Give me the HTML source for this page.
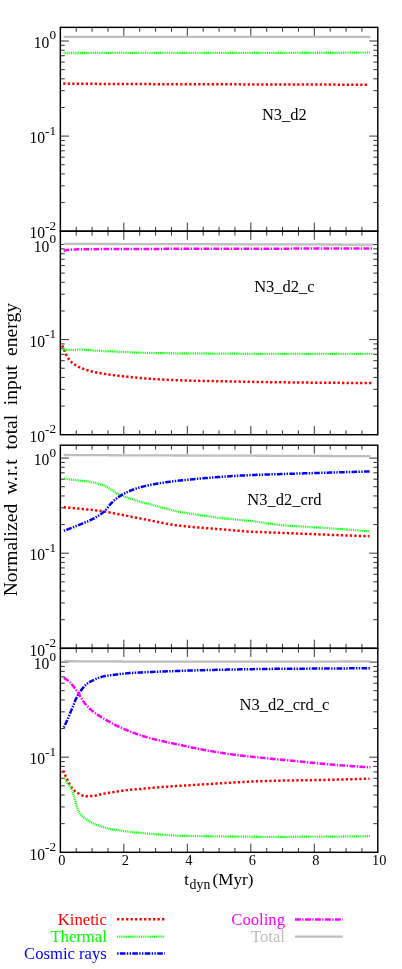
<!DOCTYPE html>
<html><head><meta charset="utf-8"><title>chart</title>
<style>html,body{margin:0;padding:0;background:#fff}body{width:402px;height:969px;overflow:hidden}svg{display:block;will-change:transform}text{font-family:"Liberation Serif",serif;fill:#000}</style></head><body>
<svg width="402" height="969" viewBox="0 0 402 969">
<rect width="402" height="969" fill="#fff"/>
<rect x="60.35" y="27.35" width="317.45" height="203.85" fill="none" stroke="#000" stroke-width="1.45"/>
<rect x="60.35" y="231.2" width="317.45" height="203.5" fill="none" stroke="#000" stroke-width="1.45"/>
<rect x="60.35" y="445.2" width="317.45" height="203.09999999999997" fill="none" stroke="#000" stroke-width="1.45"/>
<rect x="60.35" y="648.3" width="317.45" height="204.0" fill="none" stroke="#000" stroke-width="1.45"/>
<path d="M76.22,27.35L76.22,31.75M76.22,231.20L76.22,226.80M92.09,27.35L92.09,31.75M92.09,231.20L92.09,226.80M107.97,27.35L107.97,31.75M107.97,231.20L107.97,226.80M123.84,27.35L123.84,35.95M123.84,231.20L123.84,222.60M139.71,27.35L139.71,31.75M139.71,231.20L139.71,226.80M155.58,27.35L155.58,31.75M155.58,231.20L155.58,226.80M171.46,27.35L171.46,31.75M171.46,231.20L171.46,226.80M187.33,27.35L187.33,35.95M187.33,231.20L187.33,222.60M203.20,27.35L203.20,31.75M203.20,231.20L203.20,226.80M219.07,27.35L219.07,31.75M219.07,231.20L219.07,226.80M234.95,27.35L234.95,31.75M234.95,231.20L234.95,226.80M250.82,27.35L250.82,35.95M250.82,231.20L250.82,222.60M266.69,27.35L266.69,31.75M266.69,231.20L266.69,226.80M282.56,27.35L282.56,31.75M282.56,231.20L282.56,226.80M298.44,27.35L298.44,31.75M298.44,231.20L298.44,226.80M314.31,27.35L314.31,35.95M314.31,231.20L314.31,222.60M330.18,27.35L330.18,31.75M330.18,231.20L330.18,226.80M346.06,27.35L346.06,31.75M346.06,231.20L346.06,226.80M361.93,27.35L361.93,31.75M361.93,231.20L361.93,226.80M60.35,202.57L64.75,202.57M377.80,202.57L373.40,202.57M60.35,185.83L64.75,185.83M377.80,185.83L373.40,185.83M60.35,173.94L64.75,173.94M377.80,173.94L373.40,173.94M60.35,164.73L64.75,164.73M377.80,164.73L373.40,164.73M60.35,157.20L64.75,157.20M377.80,157.20L373.40,157.20M60.35,150.83L64.75,150.83M377.80,150.83L373.40,150.83M60.35,145.32L64.75,145.32M377.80,145.32L373.40,145.32M60.35,140.45L64.75,140.45M377.80,140.45L373.40,140.45M60.35,136.10L68.95,136.10M377.80,136.10L369.20,136.10M60.35,107.47L64.75,107.47M377.80,107.47L373.40,107.47M60.35,90.73L64.75,90.73M377.80,90.73L373.40,90.73M60.35,78.84L64.75,78.84M377.80,78.84L373.40,78.84M60.35,69.63L64.75,69.63M377.80,69.63L373.40,69.63M60.35,62.10L64.75,62.10M377.80,62.10L373.40,62.10M60.35,55.73L64.75,55.73M377.80,55.73L373.40,55.73M60.35,50.22L64.75,50.22M377.80,50.22L373.40,50.22M60.35,45.35L64.75,45.35M377.80,45.35L373.40,45.35M60.35,41.00L68.95,41.00M377.80,41.00L369.20,41.00M76.22,231.20L76.22,235.60M76.22,434.70L76.22,430.30M92.09,231.20L92.09,235.60M92.09,434.70L92.09,430.30M107.97,231.20L107.97,235.60M107.97,434.70L107.97,430.30M123.84,231.20L123.84,239.80M123.84,434.70L123.84,426.10M139.71,231.20L139.71,235.60M139.71,434.70L139.71,430.30M155.58,231.20L155.58,235.60M155.58,434.70L155.58,430.30M171.46,231.20L171.46,235.60M171.46,434.70L171.46,430.30M187.33,231.20L187.33,239.80M187.33,434.70L187.33,426.10M203.20,231.20L203.20,235.60M203.20,434.70L203.20,430.30M219.07,231.20L219.07,235.60M219.07,434.70L219.07,430.30M234.95,231.20L234.95,235.60M234.95,434.70L234.95,430.30M250.82,231.20L250.82,239.80M250.82,434.70L250.82,426.10M266.69,231.20L266.69,235.60M266.69,434.70L266.69,430.30M282.56,231.20L282.56,235.60M282.56,434.70L282.56,430.30M298.44,231.20L298.44,235.60M298.44,434.70L298.44,430.30M314.31,231.20L314.31,239.80M314.31,434.70L314.31,426.10M330.18,231.20L330.18,235.60M330.18,434.70L330.18,430.30M346.06,231.20L346.06,235.60M346.06,434.70L346.06,430.30M361.93,231.20L361.93,235.60M361.93,434.70L361.93,430.30M60.35,406.07L64.75,406.07M377.80,406.07L373.40,406.07M60.35,389.33L64.75,389.33M377.80,389.33L373.40,389.33M60.35,377.44L64.75,377.44M377.80,377.44L373.40,377.44M60.35,368.23L64.75,368.23M377.80,368.23L373.40,368.23M60.35,360.70L64.75,360.70M377.80,360.70L373.40,360.70M60.35,354.33L64.75,354.33M377.80,354.33L373.40,354.33M60.35,348.82L64.75,348.82M377.80,348.82L373.40,348.82M60.35,343.95L64.75,343.95M377.80,343.95L373.40,343.95M60.35,339.60L68.95,339.60M377.80,339.60L369.20,339.60M60.35,310.97L64.75,310.97M377.80,310.97L373.40,310.97M60.35,294.23L64.75,294.23M377.80,294.23L373.40,294.23M60.35,282.34L64.75,282.34M377.80,282.34L373.40,282.34M60.35,273.13L64.75,273.13M377.80,273.13L373.40,273.13M60.35,265.60L64.75,265.60M377.80,265.60L373.40,265.60M60.35,259.23L64.75,259.23M377.80,259.23L373.40,259.23M60.35,253.72L64.75,253.72M377.80,253.72L373.40,253.72M60.35,248.85L64.75,248.85M377.80,248.85L373.40,248.85M60.35,244.50L68.95,244.50M377.80,244.50L369.20,244.50M76.22,445.20L76.22,449.60M76.22,648.30L76.22,643.90M92.09,445.20L92.09,449.60M92.09,648.30L92.09,643.90M107.97,445.20L107.97,449.60M107.97,648.30L107.97,643.90M123.84,445.20L123.84,453.80M123.84,648.30L123.84,639.70M139.71,445.20L139.71,449.60M139.71,648.30L139.71,643.90M155.58,445.20L155.58,449.60M155.58,648.30L155.58,643.90M171.46,445.20L171.46,449.60M171.46,648.30L171.46,643.90M187.33,445.20L187.33,453.80M187.33,648.30L187.33,639.70M203.20,445.20L203.20,449.60M203.20,648.30L203.20,643.90M219.07,445.20L219.07,449.60M219.07,648.30L219.07,643.90M234.95,445.20L234.95,449.60M234.95,648.30L234.95,643.90M250.82,445.20L250.82,453.80M250.82,648.30L250.82,639.70M266.69,445.20L266.69,449.60M266.69,648.30L266.69,643.90M282.56,445.20L282.56,449.60M282.56,648.30L282.56,643.90M298.44,445.20L298.44,449.60M298.44,648.30L298.44,643.90M314.31,445.20L314.31,453.80M314.31,648.30L314.31,639.70M330.18,445.20L330.18,449.60M330.18,648.30L330.18,643.90M346.06,445.20L346.06,449.60M346.06,648.30L346.06,643.90M361.93,445.20L361.93,449.60M361.93,648.30L361.93,643.90M60.35,619.67L64.75,619.67M377.80,619.67L373.40,619.67M60.35,602.93L64.75,602.93M377.80,602.93L373.40,602.93M60.35,591.04L64.75,591.04M377.80,591.04L373.40,591.04M60.35,581.83L64.75,581.83M377.80,581.83L373.40,581.83M60.35,574.30L64.75,574.30M377.80,574.30L373.40,574.30M60.35,567.93L64.75,567.93M377.80,567.93L373.40,567.93M60.35,562.42L64.75,562.42M377.80,562.42L373.40,562.42M60.35,557.55L64.75,557.55M377.80,557.55L373.40,557.55M60.35,553.20L68.95,553.20M377.80,553.20L369.20,553.20M60.35,524.57L64.75,524.57M377.80,524.57L373.40,524.57M60.35,507.83L64.75,507.83M377.80,507.83L373.40,507.83M60.35,495.94L64.75,495.94M377.80,495.94L373.40,495.94M60.35,486.73L64.75,486.73M377.80,486.73L373.40,486.73M60.35,479.20L64.75,479.20M377.80,479.20L373.40,479.20M60.35,472.83L64.75,472.83M377.80,472.83L373.40,472.83M60.35,467.32L64.75,467.32M377.80,467.32L373.40,467.32M60.35,462.45L64.75,462.45M377.80,462.45L373.40,462.45M60.35,458.10L68.95,458.10M377.80,458.10L369.20,458.10M76.22,648.30L76.22,652.70M76.22,852.30L76.22,847.90M92.09,648.30L92.09,652.70M92.09,852.30L92.09,847.90M107.97,648.30L107.97,652.70M107.97,852.30L107.97,847.90M123.84,648.30L123.84,656.90M123.84,852.30L123.84,843.70M139.71,648.30L139.71,652.70M139.71,852.30L139.71,847.90M155.58,648.30L155.58,652.70M155.58,852.30L155.58,847.90M171.46,648.30L171.46,652.70M171.46,852.30L171.46,847.90M187.33,648.30L187.33,656.90M187.33,852.30L187.33,843.70M203.20,648.30L203.20,652.70M203.20,852.30L203.20,847.90M219.07,648.30L219.07,652.70M219.07,852.30L219.07,847.90M234.95,648.30L234.95,652.70M234.95,852.30L234.95,847.90M250.82,648.30L250.82,656.90M250.82,852.30L250.82,843.70M266.69,648.30L266.69,652.70M266.69,852.30L266.69,847.90M282.56,648.30L282.56,652.70M282.56,852.30L282.56,847.90M298.44,648.30L298.44,652.70M298.44,852.30L298.44,847.90M314.31,648.30L314.31,656.90M314.31,852.30L314.31,843.70M330.18,648.30L330.18,652.70M330.18,852.30L330.18,847.90M346.06,648.30L346.06,652.70M346.06,852.30L346.06,847.90M361.93,648.30L361.93,652.70M361.93,852.30L361.93,847.90M60.35,823.67L64.75,823.67M377.80,823.67L373.40,823.67M60.35,806.93L64.75,806.93M377.80,806.93L373.40,806.93M60.35,795.04L64.75,795.04M377.80,795.04L373.40,795.04M60.35,785.83L64.75,785.83M377.80,785.83L373.40,785.83M60.35,778.30L64.75,778.30M377.80,778.30L373.40,778.30M60.35,771.93L64.75,771.93M377.80,771.93L373.40,771.93M60.35,766.42L64.75,766.42M377.80,766.42L373.40,766.42M60.35,761.55L64.75,761.55M377.80,761.55L373.40,761.55M60.35,757.20L68.95,757.20M377.80,757.20L369.20,757.20M60.35,728.57L64.75,728.57M377.80,728.57L373.40,728.57M60.35,711.83L64.75,711.83M377.80,711.83L373.40,711.83M60.35,699.94L64.75,699.94M377.80,699.94L373.40,699.94M60.35,690.73L64.75,690.73M377.80,690.73L373.40,690.73M60.35,683.20L64.75,683.20M377.80,683.20L373.40,683.20M60.35,676.83L64.75,676.83M377.80,676.83L373.40,676.83M60.35,671.32L64.75,671.32M377.80,671.32L373.40,671.32M60.35,666.45L64.75,666.45M377.80,666.45L373.40,666.45M60.35,662.10L68.95,662.10M377.80,662.10L369.20,662.10" stroke="#000" stroke-width="0.8" fill="none"/>
<path d="M63.60,36.90 L64.63,36.90 L65.65,36.90 L66.68,36.90 L67.70,36.90 L68.73,36.90 L69.76,36.90 L70.78,36.90 L71.81,36.90 L72.83,36.90 L73.86,36.90 L74.89,36.90 L75.91,36.90 L76.94,36.90 L77.97,36.90 L78.99,36.89 L80.02,36.89 L81.04,36.89 L82.07,36.89 L83.10,36.89 L84.12,36.89 L85.15,36.89 L86.17,36.89 L87.20,36.89 L88.23,36.89 L89.25,36.89 L90.28,36.89 L91.30,36.89 L92.33,36.89 L93.36,36.89 L94.38,36.89 L95.41,36.89 L96.43,36.89 L97.46,36.89 L98.49,36.89 L99.51,36.89 L100.54,36.89 L101.57,36.89 L102.59,36.89 L103.62,36.89 L104.64,36.89 L105.67,36.89 L106.70,36.89 L107.72,36.89 L108.75,36.89 L109.77,36.88 L110.80,36.88 L111.83,36.88 L112.85,36.88 L113.88,36.88 L114.90,36.88 L115.93,36.88 L116.96,36.88 L117.98,36.88 L119.01,36.88 L120.03,36.88 L121.06,36.88 L122.09,36.88 L123.11,36.88 L124.14,36.88 L125.17,36.88 L126.19,36.88 L127.22,36.88 L128.24,36.88 L129.27,36.88 L130.30,36.88 L131.32,36.88 L132.35,36.88 L133.37,36.88 L134.40,36.88 L135.43,36.88 L136.45,36.88 L137.48,36.88 L138.50,36.88 L139.53,36.88 L140.56,36.87 L141.58,36.87 L142.61,36.87 L143.63,36.87 L144.66,36.87 L145.69,36.87 L146.71,36.87 L147.74,36.87 L148.77,36.87 L149.79,36.87 L150.82,36.87 L151.84,36.87 L152.87,36.87 L153.90,36.87 L154.92,36.87 L155.95,36.87 L156.97,36.87 L158.00,36.87 L159.03,36.87 L160.05,36.87 L161.08,36.87 L162.10,36.87 L163.13,36.87 L164.16,36.87 L165.18,36.87 L166.21,36.87 L167.23,36.87 L168.26,36.87 L169.29,36.87 L170.31,36.87 L171.34,36.86 L172.37,36.86 L173.39,36.86 L174.42,36.86 L175.44,36.86 L176.47,36.86 L177.50,36.86 L178.52,36.86 L179.55,36.86 L180.57,36.86 L181.60,36.86 L182.63,36.86 L183.65,36.86 L184.68,36.86 L185.70,36.86 L186.73,36.86 L187.76,36.86 L188.78,36.86 L189.81,36.86 L190.83,36.86 L191.86,36.86 L192.89,36.86 L193.91,36.86 L194.94,36.86 L195.97,36.86 L196.99,36.86 L198.02,36.86 L199.04,36.86 L200.07,36.86 L201.10,36.86 L202.12,36.85 L203.15,36.85 L204.17,36.85 L205.20,36.85 L206.23,36.85 L207.25,36.85 L208.28,36.85 L209.30,36.85 L210.33,36.85 L211.36,36.85 L212.38,36.85 L213.41,36.85 L214.43,36.85 L215.46,36.85 L216.49,36.85 L217.51,36.85 L218.54,36.85 L219.57,36.85 L220.59,36.85 L221.62,36.85 L222.64,36.85 L223.67,36.85 L224.70,36.85 L225.72,36.85 L226.75,36.85 L227.77,36.85 L228.80,36.85 L229.83,36.85 L230.85,36.85 L231.88,36.85 L232.90,36.84 L233.93,36.84 L234.96,36.84 L235.98,36.84 L237.01,36.84 L238.03,36.84 L239.06,36.84 L240.09,36.84 L241.11,36.84 L242.14,36.84 L243.17,36.84 L244.19,36.84 L245.22,36.84 L246.24,36.84 L247.27,36.84 L248.30,36.84 L249.32,36.84 L250.35,36.84 L251.37,36.84 L252.40,36.84 L253.43,36.84 L254.45,36.84 L255.48,36.84 L256.50,36.84 L257.53,36.84 L258.56,36.84 L259.58,36.84 L260.61,36.84 L261.63,36.84 L262.66,36.84 L263.69,36.83 L264.71,36.83 L265.74,36.83 L266.77,36.83 L267.79,36.83 L268.82,36.83 L269.84,36.83 L270.87,36.83 L271.90,36.83 L272.92,36.83 L273.95,36.83 L274.97,36.83 L276.00,36.83 L277.03,36.83 L278.05,36.83 L279.08,36.83 L280.10,36.83 L281.13,36.83 L282.16,36.83 L283.18,36.83 L284.21,36.83 L285.23,36.83 L286.26,36.83 L287.29,36.83 L288.31,36.83 L289.34,36.83 L290.37,36.83 L291.39,36.83 L292.42,36.83 L293.44,36.83 L294.47,36.82 L295.50,36.82 L296.52,36.82 L297.55,36.82 L298.57,36.82 L299.60,36.82 L300.63,36.82 L301.65,36.82 L302.68,36.82 L303.70,36.82 L304.73,36.82 L305.76,36.82 L306.78,36.82 L307.81,36.82 L308.83,36.82 L309.86,36.82 L310.89,36.82 L311.91,36.82 L312.94,36.82 L313.97,36.82 L314.99,36.82 L316.02,36.82 L317.04,36.82 L318.07,36.82 L319.10,36.82 L320.12,36.82 L321.15,36.82 L322.17,36.82 L323.20,36.82 L324.23,36.82 L325.25,36.81 L326.28,36.81 L327.30,36.81 L328.33,36.81 L329.36,36.81 L330.38,36.81 L331.41,36.81 L332.43,36.81 L333.46,36.81 L334.49,36.81 L335.51,36.81 L336.54,36.81 L337.57,36.81 L338.59,36.81 L339.62,36.81 L340.64,36.81 L341.67,36.81 L342.70,36.81 L343.72,36.81 L344.75,36.81 L345.77,36.81 L346.80,36.81 L347.83,36.81 L348.85,36.81 L349.88,36.81 L350.90,36.81 L351.93,36.81 L352.96,36.81 L353.98,36.81 L355.01,36.81 L356.03,36.80 L357.06,36.80 L358.09,36.80 L359.11,36.80 L360.14,36.80 L361.17,36.80 L362.19,36.80 L363.22,36.80 L364.24,36.80 L365.27,36.80 L366.30,36.80 L367.32,36.80 L368.35,36.80 L369.37,36.80 L370.40,36.80" fill="none" stroke="#bebebe" stroke-width="2.3"/>
<path d="M63.20,83.60 L64.22,83.61 L65.25,83.62 L66.27,83.63 L67.29,83.63 L68.32,83.64 L69.34,83.65 L70.36,83.66 L71.39,83.67 L72.41,83.68 L73.43,83.68 L74.46,83.69 L75.48,83.70 L76.50,83.71 L77.53,83.72 L78.55,83.73 L79.57,83.73 L80.60,83.74 L81.62,83.75 L82.64,83.76 L83.67,83.77 L84.69,83.77 L85.72,83.78 L86.74,83.79 L87.76,83.80 L88.79,83.81 L89.81,83.81 L90.83,83.82 L91.86,83.83 L92.88,83.84 L93.90,83.84 L94.93,83.85 L95.95,83.86 L96.97,83.87 L98.00,83.87 L99.02,83.88 L100.04,83.89 L101.07,83.89 L102.09,83.90 L103.11,83.91 L104.14,83.91 L105.16,83.92 L106.18,83.93 L107.21,83.93 L108.23,83.94 L109.25,83.94 L110.28,83.95 L111.30,83.96 L112.32,83.96 L113.35,83.97 L114.37,83.97 L115.39,83.98 L116.42,83.98 L117.44,83.99 L118.46,83.99 L119.49,84.00 L120.00,84.00 L120.51,84.00 L121.53,84.01 L122.56,84.01 L123.58,84.02 L124.60,84.02 L125.63,84.02 L126.65,84.03 L127.67,84.03 L128.70,84.04 L129.72,84.04 L130.75,84.05 L131.77,84.05 L132.79,84.05 L133.82,84.06 L134.84,84.06 L135.86,84.07 L136.89,84.07 L137.91,84.07 L138.93,84.08 L139.96,84.08 L140.98,84.09 L142.00,84.09 L143.03,84.09 L144.05,84.10 L145.07,84.10 L146.10,84.11 L147.12,84.11 L148.14,84.11 L149.17,84.12 L150.19,84.12 L151.21,84.12 L152.24,84.13 L153.26,84.13 L154.28,84.13 L155.31,84.14 L156.33,84.14 L157.35,84.14 L158.38,84.15 L159.40,84.15 L160.42,84.15 L161.45,84.16 L162.47,84.16 L163.49,84.16 L164.52,84.17 L165.54,84.17 L166.56,84.17 L167.59,84.18 L168.61,84.18 L169.63,84.18 L170.66,84.19 L171.68,84.19 L172.71,84.19 L173.73,84.20 L174.75,84.20 L175.78,84.20 L176.80,84.21 L177.82,84.21 L178.85,84.21 L179.87,84.21 L180.89,84.22 L181.92,84.22 L182.94,84.22 L183.96,84.23 L184.99,84.23 L186.01,84.23 L187.03,84.23 L188.06,84.24 L189.08,84.24 L190.10,84.24 L191.13,84.25 L192.15,84.25 L193.17,84.25 L194.20,84.25 L195.22,84.26 L196.24,84.26 L197.27,84.26 L198.29,84.26 L199.31,84.27 L200.34,84.27 L201.36,84.27 L202.38,84.28 L203.41,84.28 L204.43,84.28 L205.45,84.28 L206.48,84.29 L207.50,84.29 L208.52,84.29 L209.55,84.29 L210.57,84.30 L211.59,84.30 L212.62,84.30 L213.64,84.30 L214.66,84.31 L215.69,84.31 L216.71,84.31 L217.74,84.32 L218.76,84.32 L219.78,84.32 L220.81,84.32 L221.83,84.33 L222.85,84.33 L223.88,84.33 L224.90,84.33 L225.92,84.34 L226.95,84.34 L227.97,84.34 L228.99,84.34 L230.02,84.35 L231.04,84.35 L232.06,84.35 L233.09,84.35 L234.11,84.36 L235.13,84.36 L236.16,84.36 L237.18,84.37 L238.20,84.37 L239.23,84.37 L240.25,84.37 L241.27,84.38 L242.30,84.38 L243.32,84.38 L244.34,84.38 L245.37,84.39 L246.39,84.39 L247.41,84.39 L248.44,84.40 L249.46,84.40 L250.00,84.40 L250.48,84.40 L251.51,84.40 L252.53,84.41 L253.55,84.41 L254.58,84.41 L255.60,84.42 L256.62,84.42 L257.65,84.42 L258.67,84.42 L259.69,84.43 L260.72,84.43 L261.74,84.43 L262.77,84.43 L263.79,84.44 L264.81,84.44 L265.84,84.44 L266.86,84.45 L267.88,84.45 L268.91,84.45 L269.93,84.45 L270.95,84.46 L271.98,84.46 L273.00,84.46 L274.02,84.47 L275.05,84.47 L276.07,84.47 L277.09,84.47 L278.12,84.48 L279.14,84.48 L280.16,84.48 L281.19,84.48 L282.21,84.49 L283.23,84.49 L284.26,84.49 L285.28,84.50 L286.30,84.50 L287.33,84.50 L288.35,84.50 L289.37,84.51 L290.40,84.51 L291.42,84.51 L292.44,84.51 L293.47,84.52 L294.49,84.52 L295.51,84.52 L296.54,84.52 L297.56,84.53 L298.58,84.53 L299.61,84.53 L300.63,84.53 L301.65,84.54 L302.68,84.54 L303.70,84.54 L304.73,84.55 L305.75,84.55 L306.77,84.55 L307.80,84.55 L308.82,84.56 L309.84,84.56 L310.87,84.56 L311.89,84.56 L312.91,84.57 L313.94,84.57 L314.96,84.57 L315.98,84.57 L317.01,84.58 L318.03,84.58 L319.05,84.58 L320.08,84.58 L321.10,84.59 L322.12,84.59 L323.15,84.59 L324.17,84.59 L325.19,84.60 L326.22,84.60 L327.24,84.60 L328.26,84.60 L329.29,84.61 L330.31,84.61 L331.33,84.61 L332.36,84.61 L333.38,84.62 L334.40,84.62 L335.43,84.62 L336.45,84.62 L337.47,84.63 L338.50,84.63 L339.52,84.63 L340.54,84.63 L341.57,84.64 L342.59,84.64 L343.61,84.64 L344.64,84.64 L345.66,84.65 L346.68,84.65 L347.71,84.65 L348.73,84.65 L349.76,84.66 L350.78,84.66 L351.80,84.66 L352.83,84.66 L353.85,84.66 L354.87,84.67 L355.90,84.67 L356.92,84.67 L357.94,84.67 L358.97,84.68 L359.99,84.68 L361.01,84.68 L362.04,84.68 L363.06,84.69 L364.08,84.69 L365.11,84.69 L366.13,84.69 L367.15,84.70 L368.18,84.70 L369.20,84.70" fill="none" stroke="#ff0000" stroke-width="2.5" stroke-dasharray="2.3 2.2"/>
<path d="M63.60,53.00 L64.63,53.00 L65.65,53.00 L66.68,53.00 L67.70,53.00 L68.73,52.99 L69.76,52.99 L70.78,52.99 L71.81,52.99 L72.83,52.99 L73.86,52.99 L74.89,52.99 L75.91,52.99 L76.94,52.99 L77.97,52.99 L78.99,52.98 L80.02,52.98 L81.04,52.98 L82.07,52.98 L83.10,52.98 L84.12,52.98 L85.15,52.98 L86.17,52.98 L87.20,52.98 L88.23,52.98 L89.25,52.97 L90.28,52.97 L91.30,52.97 L92.33,52.97 L93.36,52.97 L94.38,52.97 L95.41,52.97 L96.43,52.97 L97.46,52.97 L98.49,52.97 L99.51,52.96 L100.54,52.96 L101.57,52.96 L102.59,52.96 L103.62,52.96 L104.64,52.96 L105.67,52.96 L106.70,52.96 L107.72,52.96 L108.75,52.96 L109.77,52.95 L110.80,52.95 L111.83,52.95 L112.85,52.95 L113.88,52.95 L114.90,52.95 L115.93,52.95 L116.96,52.95 L117.98,52.95 L119.01,52.95 L120.03,52.94 L121.06,52.94 L122.09,52.94 L123.11,52.94 L124.14,52.94 L125.17,52.94 L126.19,52.94 L127.22,52.94 L128.24,52.94 L129.27,52.94 L130.30,52.93 L131.32,52.93 L132.35,52.93 L133.37,52.93 L134.40,52.93 L135.43,52.93 L136.45,52.93 L137.48,52.93 L138.50,52.93 L139.53,52.93 L140.56,52.92 L141.58,52.92 L142.61,52.92 L143.63,52.92 L144.66,52.92 L145.69,52.92 L146.71,52.92 L147.74,52.92 L148.77,52.92 L149.79,52.92 L150.82,52.91 L151.84,52.91 L152.87,52.91 L153.90,52.91 L154.92,52.91 L155.95,52.91 L156.97,52.91 L158.00,52.91 L159.03,52.91 L160.05,52.91 L161.08,52.90 L162.10,52.90 L163.13,52.90 L164.16,52.90 L165.18,52.90 L166.21,52.90 L167.23,52.90 L168.26,52.90 L169.29,52.90 L170.31,52.90 L171.34,52.89 L172.37,52.89 L173.39,52.89 L174.42,52.89 L175.44,52.89 L176.47,52.89 L177.50,52.89 L178.52,52.89 L179.55,52.89 L180.57,52.89 L181.60,52.88 L182.63,52.88 L183.65,52.88 L184.68,52.88 L185.70,52.88 L186.73,52.88 L187.76,52.88 L188.78,52.88 L189.81,52.88 L190.83,52.88 L191.86,52.87 L192.89,52.87 L193.91,52.87 L194.94,52.87 L195.97,52.87 L196.99,52.87 L198.02,52.87 L199.04,52.87 L200.07,52.87 L201.10,52.87 L202.12,52.86 L203.15,52.86 L204.17,52.86 L205.20,52.86 L206.23,52.86 L207.25,52.86 L208.28,52.86 L209.30,52.86 L210.33,52.86 L211.36,52.86 L212.38,52.85 L213.41,52.85 L214.43,52.85 L215.46,52.85 L216.49,52.85 L217.51,52.85 L218.54,52.85 L219.57,52.85 L220.59,52.85 L221.62,52.85 L222.64,52.84 L223.67,52.84 L224.70,52.84 L225.72,52.84 L226.75,52.84 L227.77,52.84 L228.80,52.84 L229.83,52.84 L230.85,52.84 L231.88,52.84 L232.90,52.83 L233.93,52.83 L234.96,52.83 L235.98,52.83 L237.01,52.83 L238.03,52.83 L239.06,52.83 L240.09,52.83 L241.11,52.83 L242.14,52.83 L243.17,52.82 L244.19,52.82 L245.22,52.82 L246.24,52.82 L247.27,52.82 L248.30,52.82 L249.32,52.82 L250.35,52.82 L251.37,52.82 L252.40,52.82 L253.43,52.81 L254.45,52.81 L255.48,52.81 L256.50,52.81 L257.53,52.81 L258.56,52.81 L259.58,52.81 L260.61,52.81 L261.63,52.81 L262.66,52.81 L263.69,52.80 L264.71,52.80 L265.74,52.80 L266.77,52.80 L267.79,52.80 L268.82,52.80 L269.84,52.80 L270.87,52.80 L271.90,52.80 L272.92,52.80 L273.95,52.79 L274.97,52.79 L276.00,52.79 L277.03,52.79 L278.05,52.79 L279.08,52.79 L280.10,52.79 L281.13,52.79 L282.16,52.79 L283.18,52.79 L284.21,52.78 L285.23,52.78 L286.26,52.78 L287.29,52.78 L288.31,52.78 L289.34,52.78 L290.37,52.78 L291.39,52.78 L292.42,52.78 L293.44,52.78 L294.47,52.77 L295.50,52.77 L296.52,52.77 L297.55,52.77 L298.57,52.77 L299.60,52.77 L300.63,52.77 L301.65,52.77 L302.68,52.77 L303.70,52.77 L304.73,52.76 L305.76,52.76 L306.78,52.76 L307.81,52.76 L308.83,52.76 L309.86,52.76 L310.89,52.76 L311.91,52.76 L312.94,52.76 L313.97,52.76 L314.99,52.75 L316.02,52.75 L317.04,52.75 L318.07,52.75 L319.10,52.75 L320.12,52.75 L321.15,52.75 L322.17,52.75 L323.20,52.75 L324.23,52.75 L325.25,52.74 L326.28,52.74 L327.30,52.74 L328.33,52.74 L329.36,52.74 L330.38,52.74 L331.41,52.74 L332.43,52.74 L333.46,52.74 L334.49,52.74 L335.51,52.73 L336.54,52.73 L337.57,52.73 L338.59,52.73 L339.62,52.73 L340.64,52.73 L341.67,52.73 L342.70,52.73 L343.72,52.73 L344.75,52.73 L345.77,52.72 L346.80,52.72 L347.83,52.72 L348.85,52.72 L349.88,52.72 L350.90,52.72 L351.93,52.72 L352.96,52.72 L353.98,52.72 L355.01,52.72 L356.03,52.71 L357.06,52.71 L358.09,52.71 L359.11,52.71 L360.14,52.71 L361.17,52.71 L362.19,52.71 L363.22,52.71 L364.24,52.71 L365.27,52.71 L366.30,52.70 L367.32,52.70 L368.35,52.70 L369.37,52.70 L370.40,52.70" fill="none" stroke="#00ff00" stroke-width="2.3" stroke-dasharray="0.95 0.9"/>
<path d="M63.60,243.90 L64.64,243.90 L65.67,243.90 L66.71,243.91 L67.75,243.91 L68.78,243.91 L69.82,243.91 L70.86,243.92 L71.89,243.92 L72.93,243.92 L73.96,243.92 L75.00,243.92 L76.04,243.93 L77.07,243.93 L78.11,243.93 L79.15,243.93 L80.18,243.94 L81.22,243.94 L82.26,243.94 L83.29,243.94 L84.33,243.94 L85.37,243.95 L86.40,243.95 L87.44,243.95 L88.47,243.95 L89.51,243.96 L90.55,243.96 L91.58,243.96 L92.62,243.96 L93.66,243.96 L94.69,243.97 L95.73,243.97 L96.77,243.97 L97.80,243.97 L98.84,243.98 L99.88,243.98 L100.91,243.98 L101.95,243.98 L102.99,243.99 L104.02,243.99 L105.06,243.99 L106.09,243.99 L107.13,243.99 L108.17,244.00 L109.20,244.00 L110.24,244.00 L111.28,244.00 L112.31,244.01 L113.35,244.01 L114.39,244.01 L115.42,244.01 L116.46,244.01 L117.50,244.02 L118.53,244.02 L119.57,244.02 L120.61,244.02 L121.64,244.03 L122.68,244.03 L123.71,244.03 L124.75,244.03 L125.79,244.04 L126.82,244.04 L127.86,244.04 L128.90,244.04 L129.93,244.04 L130.97,244.05 L132.01,244.05 L133.04,244.05 L134.08,244.05 L135.12,244.06 L136.15,244.06 L137.19,244.06 L138.22,244.06 L139.26,244.06 L140.30,244.07 L141.33,244.07 L142.37,244.07 L143.41,244.07 L144.44,244.08 L145.48,244.08 L146.52,244.08 L147.55,244.08 L148.59,244.09 L149.63,244.09 L150.66,244.09 L151.70,244.09 L152.74,244.09 L153.77,244.10 L154.81,244.10 L155.84,244.10 L156.88,244.10 L157.92,244.11 L158.95,244.11 L159.99,244.11 L161.03,244.11 L162.06,244.12 L163.10,244.12 L164.14,244.12 L165.17,244.12 L166.21,244.12 L167.25,244.13 L168.28,244.13 L169.32,244.13 L170.35,244.13 L171.39,244.14 L172.43,244.14 L173.46,244.14 L174.50,244.14 L175.54,244.15 L176.57,244.15 L177.61,244.15 L178.65,244.15 L179.68,244.15 L180.72,244.16 L181.76,244.16 L182.79,244.16 L183.83,244.16 L184.87,244.17 L185.90,244.17 L186.94,244.17 L187.97,244.17 L189.01,244.18 L190.05,244.18 L191.08,244.18 L192.12,244.18 L193.16,244.18 L194.19,244.19 L195.23,244.19 L196.27,244.19 L197.30,244.19 L198.34,244.20 L199.38,244.20 L200.00,244.20 L200.41,244.20 L201.45,244.20 L202.48,244.21 L203.52,244.21 L204.56,244.21 L205.59,244.21 L206.63,244.21 L207.67,244.22 L208.70,244.22 L209.74,244.22 L210.78,244.22 L211.81,244.23 L212.85,244.23 L213.89,244.23 L214.92,244.23 L215.96,244.24 L217.00,244.24 L218.03,244.24 L219.07,244.24 L220.10,244.25 L221.14,244.25 L222.18,244.25 L223.21,244.25 L224.25,244.25 L225.29,244.26 L226.32,244.26 L227.36,244.26 L228.40,244.26 L229.43,244.27 L230.47,244.27 L231.51,244.27 L232.54,244.27 L233.58,244.28 L234.62,244.28 L235.65,244.28 L236.69,244.28 L237.72,244.29 L238.76,244.29 L239.80,244.29 L240.83,244.29 L241.87,244.29 L242.91,244.30 L243.94,244.30 L244.98,244.30 L246.02,244.30 L247.05,244.31 L248.09,244.31 L249.13,244.31 L250.16,244.31 L251.20,244.32 L252.23,244.32 L253.27,244.32 L254.31,244.32 L255.34,244.33 L256.38,244.33 L257.42,244.33 L258.45,244.33 L259.49,244.33 L260.53,244.34 L261.56,244.34 L262.60,244.34 L263.64,244.34 L264.67,244.35 L265.71,244.35 L266.75,244.35 L267.78,244.35 L268.82,244.36 L269.85,244.36 L270.89,244.36 L271.93,244.36 L272.96,244.37 L274.00,244.37 L275.04,244.37 L276.07,244.37 L277.11,244.38 L278.15,244.38 L279.18,244.38 L280.22,244.38 L281.26,244.38 L282.29,244.39 L283.33,244.39 L284.36,244.39 L285.40,244.39 L286.44,244.40 L287.47,244.40 L288.51,244.40 L289.55,244.40 L290.58,244.41 L291.62,244.41 L292.66,244.41 L293.69,244.41 L294.73,244.42 L295.77,244.42 L296.80,244.42 L297.84,244.42 L298.88,244.43 L299.91,244.43 L300.95,244.43 L301.98,244.43 L303.02,244.44 L304.06,244.44 L305.09,244.44 L306.13,244.44 L307.17,244.44 L308.20,244.45 L309.24,244.45 L310.28,244.45 L311.31,244.45 L312.35,244.46 L313.39,244.46 L314.42,244.46 L315.46,244.46 L316.49,244.47 L317.53,244.47 L318.57,244.47 L319.60,244.47 L320.64,244.48 L321.68,244.48 L322.71,244.48 L323.75,244.48 L324.79,244.49 L325.82,244.49 L326.86,244.49 L327.90,244.49 L328.93,244.50 L329.97,244.50 L331.01,244.50 L332.04,244.50 L333.08,244.50 L334.11,244.51 L335.15,244.51 L336.19,244.51 L337.22,244.51 L338.26,244.52 L339.30,244.52 L340.33,244.52 L341.37,244.52 L342.41,244.53 L343.44,244.53 L344.48,244.53 L345.52,244.53 L346.55,244.54 L347.59,244.54 L348.63,244.54 L349.66,244.54 L350.70,244.55 L351.73,244.55 L352.77,244.55 L353.81,244.55 L354.84,244.56 L355.88,244.56 L356.92,244.56 L357.95,244.56 L358.99,244.57 L360.03,244.57 L361.06,244.57 L362.10,244.57 L363.14,244.58 L364.17,244.58 L365.21,244.58 L366.24,244.58 L367.28,244.59 L368.32,244.59 L369.35,244.59 L370.39,244.59 L371.43,244.60 L372.46,244.60 L373.50,244.60" fill="none" stroke="#bebebe" stroke-width="2.3"/>
<path d="M62.20,345.60 L63.24,348.07 L64.28,350.42 L65.00,352.00 L65.31,352.68 L66.35,354.94 L67.39,357.00 L68.00,358.00 L68.43,358.61 L69.47,359.95 L70.51,361.11 L71.54,362.11 L72.00,362.50 L72.58,362.97 L73.62,363.77 L74.66,364.51 L75.70,365.20 L76.73,365.83 L77.77,366.41 L78.81,366.94 L79.85,367.43 L80.00,367.50 L80.89,367.88 L81.92,368.31 L82.96,368.72 L84.00,369.11 L85.04,369.48 L86.08,369.82 L87.12,370.15 L88.15,370.47 L89.19,370.77 L90.23,371.05 L91.27,371.32 L92.00,371.50 L92.31,371.57 L93.34,371.82 L94.38,372.06 L95.42,372.28 L96.46,372.50 L97.50,372.71 L98.53,372.91 L99.57,373.10 L100.61,373.29 L101.65,373.46 L102.69,373.64 L103.73,373.80 L104.76,373.96 L105.00,374.00 L105.80,374.12 L106.84,374.27 L107.88,374.42 L108.92,374.57 L109.95,374.71 L110.99,374.85 L112.03,374.98 L113.07,375.12 L114.11,375.25 L115.14,375.37 L116.18,375.50 L117.22,375.62 L118.26,375.74 L119.30,375.86 L120.34,375.98 L121.37,376.09 L122.41,376.20 L123.45,376.32 L124.49,376.43 L125.53,376.54 L126.56,376.65 L127.60,376.75 L128.64,376.86 L129.68,376.97 L130.00,377.00 L130.72,377.07 L131.75,377.18 L132.79,377.29 L133.83,377.39 L134.87,377.49 L135.91,377.60 L136.95,377.70 L137.98,377.80 L139.02,377.90 L140.06,378.00 L141.10,378.09 L142.14,378.19 L143.17,378.28 L144.21,378.37 L145.25,378.45 L146.29,378.53 L147.33,378.61 L148.36,378.69 L149.40,378.76 L150.00,378.80 L150.44,378.83 L151.48,378.90 L152.52,378.96 L153.56,379.03 L154.59,379.09 L155.63,379.15 L156.67,379.22 L157.71,379.28 L158.75,379.34 L159.78,379.40 L160.82,379.46 L161.86,379.52 L162.90,379.57 L163.94,379.63 L164.97,379.69 L166.01,379.74 L167.05,379.79 L168.09,379.84 L169.13,379.89 L170.17,379.94 L171.20,379.99 L172.24,380.04 L173.28,380.08 L174.32,380.13 L175.36,380.17 L176.39,380.21 L177.43,380.25 L178.47,380.29 L179.51,380.33 L180.55,380.37 L181.58,380.40 L182.62,380.43 L183.66,380.47 L184.70,380.50 L184.80,380.50 L185.74,380.53 L186.78,380.55 L187.81,380.58 L188.85,380.61 L189.89,380.63 L190.93,380.66 L191.97,380.68 L193.00,380.70 L194.04,380.73 L195.08,380.75 L196.12,380.77 L197.16,380.79 L198.19,380.81 L199.23,380.83 L200.27,380.85 L201.31,380.87 L202.35,380.89 L203.39,380.91 L204.42,380.92 L205.46,380.94 L206.50,380.96 L207.54,380.98 L208.58,381.00 L209.61,381.01 L210.65,381.03 L211.69,381.05 L212.73,381.07 L213.77,381.09 L214.80,381.11 L215.84,381.13 L216.88,381.15 L217.92,381.16 L218.96,381.19 L219.70,381.20 L220.00,381.21 L221.03,381.23 L222.07,381.25 L223.11,381.27 L224.15,381.29 L225.19,381.31 L226.22,381.33 L227.26,381.36 L228.30,381.38 L229.34,381.40 L230.38,381.42 L231.41,381.44 L232.45,381.47 L233.49,381.49 L234.53,381.51 L235.57,381.53 L236.61,381.55 L237.64,381.58 L238.68,381.60 L239.72,381.62 L240.76,381.64 L241.80,381.66 L242.83,381.68 L243.87,381.70 L244.91,381.72 L245.95,381.75 L246.99,381.77 L248.02,381.78 L249.06,381.80 L250.10,381.82 L251.14,381.84 L252.18,381.86 L253.22,381.88 L254.25,381.90 L254.50,381.90 L255.29,381.91 L256.33,381.93 L257.37,381.95 L258.41,381.96 L259.44,381.98 L260.48,382.00 L261.52,382.01 L262.56,382.03 L263.60,382.04 L264.63,382.06 L265.67,382.08 L266.71,382.09 L267.75,382.11 L268.79,382.12 L269.83,382.14 L270.86,382.15 L271.90,382.17 L272.94,382.18 L273.98,382.20 L275.02,382.21 L276.05,382.22 L277.09,382.24 L278.13,382.25 L279.17,382.27 L280.21,382.28 L281.24,382.29 L282.28,382.31 L283.32,382.32 L284.36,382.33 L285.40,382.34 L286.44,382.36 L287.47,382.37 L288.51,382.38 L289.55,382.39 L290.00,382.40 L290.59,382.41 L291.63,382.42 L292.66,382.43 L293.70,382.44 L294.74,382.46 L295.78,382.47 L296.82,382.48 L297.85,382.49 L298.89,382.50 L299.93,382.52 L300.97,382.53 L302.01,382.54 L303.05,382.55 L304.08,382.56 L305.12,382.57 L306.16,382.59 L307.20,382.60 L308.24,382.61 L309.27,382.62 L310.31,382.63 L311.35,382.64 L312.39,382.65 L313.43,382.66 L314.46,382.67 L315.50,382.68 L316.54,382.69 L317.58,382.70 L318.62,382.71 L319.66,382.72 L320.69,382.73 L321.73,382.74 L322.77,382.75 L323.81,382.76 L324.85,382.76 L325.88,382.77 L326.92,382.78 L327.96,382.79 L329.00,382.79 L330.00,382.80 L330.04,382.80 L331.07,382.81 L332.11,382.81 L333.15,382.82 L334.19,382.83 L335.23,382.83 L336.27,382.84 L337.30,382.85 L338.34,382.85 L339.38,382.86 L340.42,382.86 L341.46,382.87 L342.49,382.88 L343.53,382.88 L344.57,382.89 L345.61,382.89 L346.65,382.90 L347.68,382.91 L348.72,382.91 L349.76,382.92 L350.80,382.92 L351.84,382.93 L352.88,382.93 L353.91,382.94 L354.95,382.94 L355.99,382.95 L357.03,382.95 L358.07,382.95 L359.10,382.96 L360.14,382.96 L361.18,382.97 L362.22,382.97 L363.26,382.97 L364.29,382.98 L365.33,382.98 L366.37,382.98 L367.41,382.99 L368.45,382.99 L369.49,382.99 L370.52,383.00 L371.56,383.00 L372.60,383.00" fill="none" stroke="#ff0000" stroke-width="2.5" stroke-dasharray="2.3 2.2"/>
<path d="M62.60,348.20 L63.64,349.11 L64.68,349.73 L65.00,349.80 L65.72,349.86 L66.76,349.92 L67.80,349.96 L68.84,349.99 L69.88,350.00 L70.00,350.00 L70.92,349.99 L71.96,349.95 L73.00,349.89 L74.04,349.82 L75.08,349.74 L76.12,349.67 L77.16,349.60 L78.20,349.54 L79.24,349.51 L80.00,349.50 L80.28,349.50 L81.32,349.52 L82.36,349.55 L83.40,349.61 L84.44,349.68 L85.48,349.76 L86.52,349.85 L87.56,349.94 L88.59,350.05 L89.63,350.15 L90.67,350.25 L91.71,350.35 L92.75,350.44 L93.79,350.52 L94.83,350.59 L95.00,350.60 L95.87,350.65 L96.91,350.71 L97.95,350.77 L98.99,350.83 L100.03,350.88 L101.07,350.93 L102.11,350.99 L103.15,351.04 L104.19,351.09 L105.23,351.14 L106.27,351.19 L107.31,351.24 L108.35,351.29 L109.39,351.33 L110.43,351.38 L111.47,351.43 L112.51,351.47 L113.55,351.52 L114.59,351.56 L115.63,351.61 L116.67,351.66 L117.71,351.70 L118.75,351.75 L119.79,351.79 L120.00,351.80 L120.83,351.84 L121.87,351.88 L122.91,351.93 L123.95,351.98 L124.99,352.03 L126.03,352.08 L127.07,352.13 L128.11,352.18 L129.15,352.23 L130.19,352.28 L131.23,352.33 L132.27,352.38 L133.31,352.43 L134.35,352.48 L135.39,352.52 L136.43,352.57 L137.47,352.61 L138.51,352.66 L139.55,352.70 L140.58,352.74 L141.62,352.78 L142.66,352.81 L143.70,352.85 L144.74,352.88 L145.78,352.91 L146.82,352.94 L147.86,352.96 L148.90,352.98 L149.94,353.00 L150.00,353.00 L150.98,353.02 L152.02,353.03 L153.06,353.05 L154.10,353.06 L155.14,353.08 L156.18,353.09 L157.22,353.10 L158.26,353.12 L159.30,353.13 L160.34,353.14 L161.38,353.16 L162.42,353.17 L163.46,353.18 L164.50,353.19 L165.54,353.21 L166.58,353.22 L167.62,353.23 L168.66,353.24 L169.70,353.25 L170.74,353.26 L171.78,353.27 L172.82,353.28 L173.86,353.29 L174.90,353.30 L175.94,353.31 L176.98,353.32 L178.02,353.33 L179.06,353.34 L180.10,353.35 L181.14,353.35 L182.18,353.36 L183.22,353.37 L184.26,353.38 L185.30,353.39 L186.34,353.40 L187.38,353.40 L188.42,353.41 L189.46,353.42 L190.50,353.42 L191.54,353.43 L192.57,353.44 L193.61,353.45 L194.65,353.45 L195.69,353.46 L196.73,353.47 L197.77,353.47 L198.81,353.48 L199.85,353.48 L200.89,353.49 L201.93,353.50 L202.97,353.50 L204.01,353.51 L205.05,353.52 L206.09,353.52 L207.13,353.53 L208.17,353.53 L209.21,353.54 L210.25,353.55 L211.29,353.55 L212.33,353.56 L213.37,353.56 L214.41,353.57 L215.45,353.57 L216.49,353.58 L217.53,353.59 L218.57,353.59 L219.61,353.60 L220.00,353.60 L220.65,353.60 L221.69,353.61 L222.73,353.62 L223.77,353.62 L224.81,353.63 L225.85,353.63 L226.89,353.64 L227.93,353.65 L228.97,353.65 L230.01,353.66 L231.05,353.66 L232.09,353.67 L233.13,353.68 L234.17,353.68 L235.21,353.69 L236.25,353.70 L237.29,353.70 L238.33,353.71 L239.37,353.71 L240.41,353.72 L241.45,353.73 L242.49,353.73 L243.53,353.74 L244.56,353.74 L245.60,353.75 L246.64,353.76 L247.68,353.76 L248.72,353.77 L249.76,353.77 L250.80,353.78 L251.84,353.78 L252.88,353.79 L253.92,353.79 L254.96,353.80 L256.00,353.80 L257.04,353.81 L258.08,353.82 L259.12,353.82 L260.16,353.82 L261.20,353.83 L262.24,353.83 L263.28,353.84 L264.32,353.84 L265.36,353.85 L266.40,353.85 L267.44,353.85 L268.48,353.86 L269.52,353.86 L270.56,353.87 L271.60,353.87 L272.64,353.87 L273.68,353.88 L274.72,353.88 L275.76,353.88 L276.80,353.88 L277.84,353.89 L278.88,353.89 L279.92,353.89 L280.96,353.89 L282.00,353.89 L283.04,353.90 L284.08,353.90 L285.12,353.90 L286.16,353.90 L287.20,353.90 L288.24,353.90 L289.28,353.90 L290.00,353.90 L290.32,353.90 L291.36,353.90 L292.40,353.90 L293.44,353.90 L294.48,353.90 L295.52,353.90 L296.55,353.90 L297.59,353.90 L298.63,353.90 L299.67,353.90 L300.71,353.90 L301.75,353.90 L302.79,353.90 L303.83,353.90 L304.87,353.90 L305.91,353.90 L306.95,353.90 L307.99,353.90 L309.03,353.90 L310.07,353.90 L311.11,353.90 L312.15,353.90 L313.19,353.90 L314.23,353.90 L315.27,353.90 L316.31,353.90 L317.35,353.90 L318.39,353.90 L319.43,353.90 L320.47,353.90 L321.51,353.90 L322.55,353.90 L323.59,353.90 L324.63,353.90 L325.67,353.90 L326.71,353.90 L327.75,353.90 L328.79,353.90 L329.83,353.90 L330.87,353.90 L331.91,353.90 L332.95,353.90 L333.99,353.90 L335.03,353.90 L336.07,353.90 L337.11,353.90 L338.15,353.90 L339.19,353.90 L340.23,353.90 L341.27,353.90 L342.31,353.90 L343.35,353.90 L344.39,353.90 L345.43,353.90 L346.47,353.90 L347.51,353.90 L348.54,353.90 L349.58,353.90 L350.62,353.90 L351.66,353.90 L352.70,353.90 L353.74,353.90 L354.78,353.90 L355.82,353.90 L356.86,353.90 L357.90,353.90 L358.94,353.90 L359.98,353.90 L361.02,353.90 L362.06,353.90 L363.10,353.90 L364.14,353.90 L365.18,353.90 L366.22,353.90 L367.26,353.90 L368.30,353.90 L369.34,353.90 L370.38,353.90 L371.42,353.90 L372.46,353.90 L373.50,353.90" fill="none" stroke="#00ff00" stroke-width="2.3" stroke-dasharray="0.95 0.9"/>
<path d="M63.60,250.80 L64.64,250.52 L65.67,250.27 L66.00,250.20 L66.71,250.05 L67.75,249.86 L68.78,249.72 L69.00,249.70 L69.82,249.65 L70.86,249.59 L71.89,249.53 L72.93,249.48 L73.96,249.44 L75.00,249.41 L76.04,249.38 L77.07,249.35 L78.11,249.33 L79.15,249.31 L80.00,249.30 L80.18,249.30 L81.22,249.28 L82.26,249.27 L83.29,249.26 L84.33,249.25 L85.37,249.24 L86.40,249.22 L87.44,249.21 L88.47,249.20 L89.51,249.19 L90.55,249.18 L91.58,249.18 L92.62,249.17 L93.66,249.16 L94.69,249.15 L95.73,249.14 L96.77,249.13 L97.80,249.13 L98.84,249.12 L99.88,249.11 L100.91,249.11 L101.95,249.10 L102.99,249.09 L104.02,249.09 L105.06,249.08 L106.09,249.08 L107.13,249.07 L108.17,249.07 L109.20,249.06 L110.24,249.06 L111.28,249.05 L112.31,249.05 L113.35,249.05 L114.39,249.04 L115.42,249.04 L116.46,249.03 L117.50,249.03 L118.53,249.02 L119.57,249.02 L120.61,249.02 L121.64,249.01 L122.68,249.01 L123.71,249.00 L124.75,249.00 L125.00,249.00 L125.79,249.00 L126.82,248.99 L127.86,248.99 L128.90,248.99 L129.93,248.98 L130.97,248.98 L132.01,248.97 L133.04,248.97 L134.08,248.97 L135.12,248.96 L136.15,248.96 L137.19,248.96 L138.22,248.95 L139.26,248.95 L140.30,248.95 L141.33,248.94 L142.37,248.94 L143.41,248.94 L144.44,248.93 L145.48,248.93 L146.52,248.93 L147.55,248.92 L148.59,248.92 L149.63,248.92 L150.66,248.91 L151.70,248.91 L152.74,248.91 L153.77,248.90 L154.81,248.90 L155.84,248.90 L156.88,248.90 L157.92,248.89 L158.95,248.89 L159.99,248.89 L161.03,248.88 L162.06,248.88 L163.10,248.88 L164.14,248.88 L165.17,248.87 L166.21,248.87 L167.25,248.87 L168.28,248.87 L169.32,248.86 L170.35,248.86 L171.39,248.86 L172.43,248.86 L173.46,248.85 L174.50,248.85 L175.54,248.85 L176.57,248.85 L177.61,248.84 L178.65,248.84 L179.68,248.84 L180.72,248.84 L181.76,248.83 L182.79,248.83 L183.83,248.83 L184.87,248.83 L185.90,248.82 L186.94,248.82 L187.97,248.82 L189.01,248.82 L190.05,248.82 L191.08,248.81 L192.12,248.81 L193.16,248.81 L194.19,248.81 L195.23,248.80 L196.27,248.80 L197.30,248.80 L198.34,248.80 L199.38,248.80 L200.41,248.79 L201.45,248.79 L202.48,248.79 L203.52,248.79 L204.56,248.79 L205.59,248.78 L206.63,248.78 L207.67,248.78 L208.70,248.78 L209.74,248.78 L210.78,248.77 L211.81,248.77 L212.85,248.77 L213.89,248.77 L214.92,248.77 L215.96,248.76 L217.00,248.76 L218.03,248.76 L219.07,248.76 L220.10,248.76 L221.14,248.75 L222.18,248.75 L223.21,248.75 L224.25,248.75 L225.29,248.75 L226.32,248.74 L227.36,248.74 L228.40,248.74 L229.43,248.74 L230.47,248.74 L231.51,248.73 L232.54,248.73 L233.58,248.73 L234.62,248.73 L235.65,248.73 L236.69,248.73 L237.72,248.72 L238.76,248.72 L239.80,248.72 L240.83,248.72 L241.87,248.72 L242.91,248.71 L243.94,248.71 L244.98,248.71 L246.02,248.71 L247.05,248.71 L248.09,248.70 L249.13,248.70 L250.00,248.70 L250.16,248.70 L251.20,248.70 L252.23,248.70 L253.27,248.69 L254.31,248.69 L255.34,248.69 L256.38,248.69 L257.42,248.69 L258.45,248.68 L259.49,248.68 L260.53,248.68 L261.56,248.68 L262.60,248.68 L263.64,248.67 L264.67,248.67 L265.71,248.67 L266.75,248.67 L267.78,248.67 L268.82,248.66 L269.85,248.66 L270.89,248.66 L271.93,248.66 L272.96,248.66 L274.00,248.65 L275.04,248.65 L276.07,248.65 L277.11,248.65 L278.15,248.65 L279.18,248.65 L280.22,248.64 L281.26,248.64 L282.29,248.64 L283.33,248.64 L284.36,248.64 L285.40,248.63 L286.44,248.63 L287.47,248.63 L288.51,248.63 L289.55,248.63 L290.58,248.63 L291.62,248.62 L292.66,248.62 L293.69,248.62 L294.73,248.62 L295.77,248.62 L296.80,248.61 L297.84,248.61 L298.88,248.61 L299.91,248.61 L300.95,248.61 L301.98,248.61 L303.02,248.60 L304.06,248.60 L305.09,248.60 L306.13,248.60 L307.17,248.60 L308.20,248.60 L309.24,248.59 L310.28,248.59 L311.31,248.59 L312.35,248.59 L313.39,248.59 L314.42,248.58 L315.46,248.58 L316.49,248.58 L317.53,248.58 L318.57,248.58 L319.60,248.58 L320.64,248.57 L321.68,248.57 L322.71,248.57 L323.75,248.57 L324.79,248.57 L325.82,248.57 L326.86,248.57 L327.90,248.56 L328.93,248.56 L329.97,248.56 L331.01,248.56 L332.04,248.56 L333.08,248.56 L334.11,248.55 L335.15,248.55 L336.19,248.55 L337.22,248.55 L338.26,248.55 L339.30,248.55 L340.33,248.54 L341.37,248.54 L342.41,248.54 L343.44,248.54 L344.48,248.54 L345.52,248.54 L346.55,248.54 L347.59,248.53 L348.63,248.53 L349.66,248.53 L350.70,248.53 L351.73,248.53 L352.77,248.53 L353.81,248.53 L354.84,248.52 L355.88,248.52 L356.92,248.52 L357.95,248.52 L358.99,248.52 L360.03,248.52 L361.06,248.52 L362.10,248.51 L363.14,248.51 L364.17,248.51 L365.21,248.51 L366.24,248.51 L367.28,248.51 L368.32,248.51 L369.35,248.51 L370.39,248.50 L371.43,248.50 L372.46,248.50 L373.50,248.50" fill="none" stroke="#ff00ff" stroke-width="2.5" stroke-dasharray="5.8 1.5 1.3 1.4"/>
<path d="M63.60,455.00 L64.63,455.01 L65.65,455.01 L66.68,455.02 L67.70,455.02 L68.73,455.03 L69.76,455.03 L70.78,455.04 L71.81,455.04 L72.83,455.05 L73.86,455.05 L74.89,455.06 L75.91,455.07 L76.94,455.07 L77.97,455.08 L78.99,455.08 L80.02,455.09 L81.04,455.09 L82.07,455.10 L83.10,455.10 L84.12,455.11 L85.15,455.11 L86.17,455.12 L87.20,455.12 L88.23,455.13 L89.25,455.13 L90.28,455.14 L91.30,455.14 L92.33,455.15 L93.36,455.15 L94.38,455.16 L95.41,455.16 L96.43,455.17 L97.46,455.17 L98.49,455.18 L99.51,455.18 L100.54,455.19 L101.57,455.19 L102.59,455.20 L103.62,455.20 L104.64,455.21 L105.67,455.21 L106.70,455.22 L107.72,455.22 L108.75,455.23 L109.77,455.23 L110.80,455.24 L111.83,455.24 L112.85,455.25 L113.88,455.25 L114.90,455.26 L115.93,455.26 L116.96,455.27 L117.98,455.27 L119.01,455.27 L120.03,455.28 L121.06,455.28 L122.09,455.29 L123.11,455.29 L124.14,455.30 L125.17,455.30 L126.19,455.31 L127.22,455.31 L128.24,455.31 L129.27,455.32 L130.30,455.32 L131.32,455.33 L132.35,455.33 L133.37,455.34 L134.40,455.34 L135.43,455.34 L136.45,455.35 L137.48,455.35 L138.50,455.36 L139.53,455.36 L140.56,455.36 L141.58,455.37 L142.61,455.37 L143.63,455.38 L144.66,455.38 L145.69,455.38 L146.71,455.39 L147.74,455.39 L148.77,455.40 L149.79,455.40 L150.00,455.40 L150.82,455.40 L151.84,455.41 L152.87,455.41 L153.90,455.41 L154.92,455.42 L155.95,455.42 L156.97,455.42 L158.00,455.43 L159.03,455.43 L160.05,455.44 L161.08,455.44 L162.10,455.44 L163.13,455.45 L164.16,455.45 L165.18,455.45 L166.21,455.46 L167.23,455.46 L168.26,455.46 L169.29,455.46 L170.31,455.47 L171.34,455.47 L172.37,455.47 L173.39,455.48 L174.42,455.48 L175.44,455.48 L176.47,455.49 L177.50,455.49 L178.52,455.49 L179.55,455.50 L180.57,455.50 L181.60,455.50 L182.63,455.50 L183.65,455.51 L184.68,455.51 L185.70,455.51 L186.73,455.52 L187.76,455.52 L188.78,455.52 L189.81,455.52 L190.83,455.53 L191.86,455.53 L192.89,455.53 L193.91,455.54 L194.94,455.54 L195.97,455.54 L196.99,455.54 L198.02,455.55 L199.04,455.55 L200.07,455.55 L201.10,455.56 L202.12,455.56 L203.15,455.56 L204.17,455.56 L205.20,455.57 L206.23,455.57 L207.25,455.57 L208.28,455.57 L209.30,455.58 L210.33,455.58 L211.36,455.58 L212.38,455.59 L213.41,455.59 L214.43,455.59 L215.46,455.59 L216.49,455.60 L217.51,455.60 L218.54,455.60 L219.57,455.61 L220.59,455.61 L221.62,455.61 L222.64,455.61 L223.67,455.62 L224.70,455.62 L225.72,455.62 L226.75,455.63 L227.77,455.63 L228.80,455.63 L229.83,455.64 L230.85,455.64 L231.88,455.64 L232.90,455.64 L233.93,455.65 L234.96,455.65 L235.98,455.65 L237.01,455.66 L238.03,455.66 L239.06,455.66 L240.09,455.67 L241.11,455.67 L242.14,455.67 L243.17,455.68 L244.19,455.68 L245.22,455.68 L246.24,455.69 L247.27,455.69 L248.30,455.69 L249.32,455.70 L250.00,455.70 L250.35,455.70 L251.37,455.70 L252.40,455.71 L253.43,455.71 L254.45,455.72 L255.48,455.72 L256.50,455.72 L257.53,455.73 L258.56,455.73 L259.58,455.73 L260.61,455.74 L261.63,455.74 L262.66,455.74 L263.69,455.75 L264.71,455.75 L265.74,455.76 L266.77,455.76 L267.79,455.76 L268.82,455.77 L269.84,455.77 L270.87,455.77 L271.90,455.78 L272.92,455.78 L273.95,455.79 L274.97,455.79 L276.00,455.79 L277.03,455.80 L278.05,455.80 L279.08,455.81 L280.10,455.81 L281.13,455.81 L282.16,455.82 L283.18,455.82 L284.21,455.83 L285.23,455.83 L286.26,455.83 L287.29,455.84 L288.31,455.84 L289.34,455.85 L290.37,455.85 L291.39,455.85 L292.42,455.86 L293.44,455.86 L294.47,455.87 L295.50,455.87 L296.52,455.87 L297.55,455.88 L298.57,455.88 L299.60,455.89 L300.63,455.89 L301.65,455.89 L302.68,455.90 L303.70,455.90 L304.73,455.91 L305.76,455.91 L306.78,455.92 L307.81,455.92 L308.83,455.92 L309.86,455.93 L310.89,455.93 L311.91,455.94 L312.94,455.94 L313.97,455.95 L314.99,455.95 L316.02,455.95 L317.04,455.96 L318.07,455.96 L319.10,455.97 L320.12,455.97 L321.15,455.98 L322.17,455.98 L323.20,455.99 L324.23,455.99 L325.25,455.99 L326.28,456.00 L327.30,456.00 L328.33,456.01 L329.36,456.01 L330.38,456.02 L331.41,456.02 L332.43,456.03 L333.46,456.03 L334.49,456.03 L335.51,456.04 L336.54,456.04 L337.57,456.05 L338.59,456.05 L339.62,456.06 L340.64,456.06 L341.67,456.07 L342.70,456.07 L343.72,456.08 L344.75,456.08 L345.77,456.09 L346.80,456.09 L347.83,456.09 L348.85,456.10 L349.88,456.10 L350.90,456.11 L351.93,456.11 L352.96,456.12 L353.98,456.12 L355.01,456.13 L356.03,456.13 L357.06,456.14 L358.09,456.14 L359.11,456.15 L360.14,456.15 L361.17,456.16 L362.19,456.16 L363.22,456.17 L364.24,456.17 L365.27,456.18 L366.30,456.18 L367.32,456.19 L368.35,456.19 L369.37,456.20 L370.40,456.20" fill="none" stroke="#bebebe" stroke-width="2.3"/>
<path d="M63.70,507.20 L64.72,507.29 L65.74,507.38 L66.77,507.47 L67.79,507.57 L68.81,507.66 L69.83,507.75 L70.86,507.85 L71.88,507.94 L72.90,508.04 L73.92,508.13 L74.95,508.23 L75.97,508.32 L76.99,508.42 L78.01,508.52 L79.04,508.62 L79.90,508.70 L80.06,508.72 L81.08,508.81 L82.10,508.91 L83.13,509.00 L84.15,509.10 L85.17,509.20 L86.19,509.29 L87.22,509.39 L88.24,509.49 L89.26,509.59 L90.28,509.69 L91.31,509.80 L92.33,509.91 L93.35,510.03 L94.37,510.15 L94.80,510.20 L95.39,510.27 L96.42,510.41 L97.44,510.55 L98.46,510.70 L99.48,510.85 L100.51,511.01 L101.53,511.17 L102.55,511.34 L103.57,511.50 L104.60,511.67 L104.80,511.70 L105.62,511.83 L106.64,512.00 L107.66,512.18 L108.69,512.35 L109.71,512.53 L110.73,512.71 L111.75,512.89 L112.78,513.08 L113.80,513.27 L114.82,513.45 L115.84,513.64 L116.87,513.84 L117.20,513.90 L117.89,514.03 L118.91,514.23 L119.93,514.43 L120.95,514.63 L121.98,514.84 L123.00,515.05 L124.02,515.26 L125.04,515.47 L126.07,515.68 L127.09,515.89 L128.11,516.10 L129.13,516.31 L129.60,516.40 L130.16,516.51 L131.18,516.72 L132.20,516.92 L133.22,517.13 L134.25,517.34 L135.27,517.54 L136.29,517.75 L137.31,517.95 L138.34,518.16 L139.36,518.36 L140.38,518.56 L141.40,518.76 L142.10,518.90 L142.43,518.96 L143.45,519.16 L144.47,519.36 L145.49,519.56 L146.52,519.76 L147.54,519.95 L148.56,520.15 L149.58,520.34 L150.60,520.54 L151.63,520.73 L152.50,520.90 L152.65,520.93 L153.67,521.13 L154.69,521.33 L155.72,521.53 L156.74,521.74 L157.76,521.95 L158.78,522.16 L159.81,522.37 L160.83,522.58 L161.85,522.79 L162.87,523.00 L163.90,523.20 L164.92,523.41 L165.94,523.61 L166.96,523.80 L167.99,523.99 L169.01,524.18 L170.03,524.36 L171.05,524.53 L172.08,524.69 L173.10,524.85 L174.12,524.99 L174.90,525.10 L175.14,525.13 L176.16,525.26 L177.19,525.39 L178.21,525.51 L179.23,525.63 L180.25,525.75 L181.28,525.86 L182.30,525.97 L183.32,526.08 L184.34,526.19 L185.37,526.29 L186.39,526.39 L187.41,526.49 L188.43,526.58 L189.46,526.68 L190.48,526.77 L191.50,526.86 L192.52,526.96 L193.55,527.05 L194.57,527.14 L195.59,527.23 L196.61,527.32 L197.64,527.41 L198.66,527.50 L199.68,527.59 L199.80,527.60 L200.70,527.68 L201.73,527.77 L202.75,527.86 L203.77,527.95 L204.79,528.03 L205.81,528.12 L206.84,528.20 L207.86,528.28 L208.88,528.37 L209.90,528.45 L210.93,528.53 L211.95,528.61 L212.97,528.69 L213.99,528.77 L215.02,528.85 L216.04,528.93 L217.06,529.01 L218.08,529.09 L219.11,529.17 L220.13,529.25 L221.15,529.33 L222.17,529.41 L223.20,529.49 L224.22,529.57 L224.60,529.60 L225.24,529.65 L226.26,529.73 L227.29,529.82 L228.31,529.91 L229.33,529.99 L230.35,530.08 L231.37,530.17 L232.40,530.26 L233.42,530.35 L234.44,530.44 L235.46,530.53 L236.49,530.61 L237.51,530.70 L238.53,530.79 L239.55,530.87 L240.58,530.95 L241.60,531.04 L242.62,531.11 L243.64,531.19 L244.67,531.26 L245.69,531.34 L246.71,531.40 L247.73,531.47 L248.76,531.53 L249.78,531.59 L250.00,531.60 L250.80,531.64 L251.82,531.69 L252.85,531.75 L253.87,531.79 L254.89,531.84 L255.91,531.89 L256.94,531.93 L257.96,531.98 L258.98,532.02 L260.00,532.06 L261.02,532.10 L262.05,532.14 L263.07,532.18 L264.09,532.22 L265.11,532.25 L266.14,532.29 L267.16,532.33 L268.18,532.37 L269.20,532.40 L270.23,532.44 L271.25,532.47 L272.27,532.51 L273.29,532.55 L274.32,532.58 L275.34,532.62 L276.36,532.66 L277.38,532.70 L278.41,532.74 L279.43,532.78 L280.00,532.80 L280.45,532.82 L281.47,532.86 L282.50,532.90 L283.52,532.94 L284.54,532.98 L285.56,533.02 L286.58,533.06 L287.61,533.11 L288.63,533.15 L289.65,533.19 L290.67,533.23 L291.70,533.27 L292.72,533.31 L293.74,533.35 L294.76,533.40 L295.79,533.44 L296.81,533.48 L297.83,533.52 L298.85,533.56 L299.88,533.60 L300.90,533.64 L301.92,533.69 L302.94,533.73 L303.97,533.77 L304.99,533.81 L306.01,533.85 L307.03,533.89 L308.06,533.93 L309.08,533.98 L310.10,534.02 L311.12,534.06 L312.15,534.10 L313.17,534.14 L314.19,534.18 L315.21,534.22 L316.23,534.26 L317.26,534.30 L318.28,534.35 L319.30,534.39 L320.32,534.43 L321.35,534.47 L322.37,534.51 L323.39,534.55 L324.41,534.59 L325.44,534.63 L326.46,534.67 L327.48,534.71 L328.50,534.75 L329.53,534.79 L329.80,534.80 L330.55,534.83 L331.57,534.87 L332.59,534.91 L333.62,534.95 L334.64,534.99 L335.66,535.03 L336.68,535.07 L337.71,535.11 L338.73,535.15 L339.75,535.18 L340.77,535.22 L341.79,535.26 L342.82,535.30 L343.84,535.34 L344.86,535.38 L345.88,535.42 L346.91,535.46 L347.93,535.50 L348.95,535.54 L349.97,535.57 L351.00,535.61 L352.02,535.65 L353.04,535.69 L354.06,535.73 L355.09,535.77 L356.11,535.81 L357.13,535.84 L358.15,535.88 L359.18,535.92 L360.20,535.96 L361.22,536.00 L362.24,536.03 L363.27,536.07 L364.29,536.11 L365.31,536.15 L366.33,536.19 L367.36,536.22 L368.38,536.26 L369.40,536.30" fill="none" stroke="#ff0000" stroke-width="2.5" stroke-dasharray="2.3 2.2"/>
<path d="M63.70,478.60 L64.72,478.71 L65.75,478.83 L66.77,478.95 L67.79,479.07 L68.82,479.19 L69.84,479.31 L70.87,479.44 L71.89,479.56 L72.91,479.69 L73.94,479.82 L74.96,479.95 L75.98,480.08 L77.01,480.22 L78.03,480.35 L79.06,480.49 L79.90,480.60 L80.08,480.62 L81.10,480.76 L82.13,480.89 L83.15,481.02 L84.17,481.15 L85.20,481.28 L86.22,481.41 L87.25,481.55 L88.27,481.69 L89.29,481.84 L90.32,482.00 L91.34,482.16 L92.36,482.33 L93.39,482.52 L94.41,482.72 L94.80,482.80 L95.44,482.94 L96.46,483.18 L97.48,483.45 L98.51,483.74 L99.53,484.05 L100.55,484.39 L101.58,484.75 L102.60,485.13 L103.63,485.52 L104.65,485.94 L104.80,486.00 L105.67,486.39 L106.70,486.92 L107.72,487.50 L108.74,488.14 L109.77,488.81 L110.79,489.50 L111.82,490.20 L112.84,490.89 L113.86,491.57 L114.89,492.22 L115.91,492.82 L116.93,493.37 L117.20,493.50 L117.96,493.86 L118.98,494.34 L120.01,494.80 L121.03,495.24 L122.05,495.67 L123.08,496.09 L124.10,496.50 L125.12,496.89 L126.15,497.28 L127.17,497.65 L128.20,498.01 L129.22,498.37 L129.60,498.50 L130.24,498.72 L131.27,499.05 L132.29,499.38 L133.31,499.70 L134.34,500.00 L135.36,500.31 L136.39,500.60 L137.41,500.89 L138.43,501.18 L139.46,501.47 L140.48,501.75 L141.50,502.03 L142.10,502.20 L142.53,502.32 L143.55,502.60 L144.58,502.88 L145.60,503.15 L146.62,503.42 L147.65,503.69 L148.67,503.95 L149.69,504.22 L150.72,504.48 L151.74,504.75 L152.77,505.01 L153.79,505.28 L154.81,505.55 L155.00,505.60 L155.84,505.82 L156.86,506.10 L157.88,506.39 L158.91,506.67 L159.93,506.96 L160.96,507.25 L161.98,507.55 L163.00,507.84 L164.03,508.13 L165.05,508.42 L166.07,508.70 L167.10,508.99 L168.12,509.26 L169.15,509.53 L170.17,509.80 L171.19,510.05 L172.22,510.30 L173.24,510.54 L174.26,510.77 L174.90,510.90 L175.29,510.98 L176.31,511.19 L177.34,511.39 L178.36,511.59 L179.38,511.79 L180.41,511.98 L181.43,512.17 L182.45,512.35 L183.48,512.53 L184.50,512.71 L185.53,512.88 L186.55,513.05 L187.57,513.22 L188.60,513.39 L189.62,513.55 L190.64,513.71 L191.67,513.87 L192.69,514.03 L193.72,514.19 L194.74,514.34 L195.76,514.50 L196.79,514.65 L197.81,514.80 L198.83,514.96 L199.80,515.10 L199.86,515.11 L200.88,515.26 L201.91,515.41 L202.93,515.56 L203.95,515.71 L204.98,515.86 L206.00,516.00 L207.02,516.15 L208.05,516.29 L209.07,516.43 L210.10,516.57 L211.12,516.71 L212.14,516.85 L213.17,516.99 L214.19,517.12 L215.21,517.26 L216.24,517.39 L217.26,517.52 L218.29,517.65 L219.31,517.77 L220.33,517.90 L221.36,518.02 L222.38,518.14 L223.40,518.26 L224.43,518.38 L224.60,518.40 L225.45,518.50 L226.48,518.61 L227.50,518.71 L228.52,518.82 L229.55,518.92 L230.57,519.02 L231.59,519.12 L232.62,519.22 L233.64,519.32 L234.67,519.41 L235.69,519.50 L236.71,519.60 L237.74,519.69 L238.76,519.78 L239.78,519.88 L240.81,519.97 L241.83,520.07 L242.86,520.17 L243.88,520.26 L244.90,520.36 L245.93,520.47 L246.95,520.57 L247.97,520.68 L249.00,520.79 L250.00,520.90 L250.02,520.90 L251.05,521.02 L252.07,521.14 L253.09,521.27 L254.12,521.41 L255.14,521.54 L256.16,521.68 L257.19,521.83 L258.21,521.97 L259.24,522.12 L260.26,522.27 L261.28,522.42 L262.31,522.57 L263.33,522.73 L264.35,522.88 L265.38,523.03 L266.40,523.18 L267.43,523.33 L268.45,523.48 L269.47,523.63 L270.50,523.77 L271.52,523.91 L272.54,524.05 L273.57,524.18 L274.59,524.31 L275.62,524.43 L276.64,524.55 L277.66,524.67 L278.69,524.77 L279.71,524.87 L280.00,524.90 L280.73,524.97 L281.76,525.06 L282.78,525.15 L283.81,525.24 L284.83,525.32 L285.85,525.41 L286.88,525.49 L287.90,525.57 L288.92,525.65 L289.95,525.73 L290.97,525.81 L292.00,525.88 L293.02,525.95 L294.04,526.03 L295.07,526.10 L296.09,526.17 L297.11,526.24 L298.14,526.30 L299.16,526.37 L300.19,526.44 L301.21,526.50 L302.23,526.57 L303.26,526.63 L304.28,526.69 L305.30,526.76 L306.33,526.82 L307.35,526.88 L308.38,526.94 L309.40,527.00 L310.42,527.07 L311.45,527.13 L312.47,527.19 L313.49,527.25 L314.52,527.31 L315.54,527.37 L316.57,527.44 L317.59,527.50 L318.61,527.56 L319.64,527.63 L320.66,527.69 L321.68,527.75 L322.71,527.82 L323.73,527.89 L324.76,527.95 L325.78,528.02 L326.80,528.09 L327.83,528.16 L328.85,528.23 L329.80,528.30 L329.87,528.31 L330.90,528.38 L331.92,528.45 L332.95,528.53 L333.97,528.60 L334.99,528.67 L336.02,528.75 L337.04,528.82 L338.06,528.90 L339.09,528.97 L340.11,529.05 L341.14,529.12 L342.16,529.20 L343.18,529.27 L344.21,529.35 L345.23,529.43 L346.25,529.50 L347.28,529.58 L348.30,529.66 L349.33,529.73 L350.35,529.81 L351.37,529.89 L352.40,529.96 L353.42,530.04 L354.44,530.12 L355.47,530.20 L356.49,530.27 L357.52,530.35 L358.54,530.43 L359.56,530.51 L360.59,530.59 L361.61,530.67 L362.63,530.74 L363.66,530.82 L364.68,530.90 L365.71,530.98 L366.73,531.06 L367.75,531.14 L368.78,531.22 L369.80,531.30" fill="none" stroke="#00ff00" stroke-width="2.3" stroke-dasharray="0.95 0.9"/>
<path d="M63.70,530.80 L64.73,530.44 L65.75,530.08 L66.78,529.71 L67.80,529.33 L68.83,528.96 L69.85,528.57 L70.88,528.18 L71.91,527.79 L72.93,527.40 L73.96,527.00 L74.98,526.59 L76.01,526.18 L77.03,525.77 L78.06,525.36 L79.09,524.94 L79.90,524.60 L80.11,524.51 L81.14,524.09 L82.16,523.67 L83.19,523.25 L84.22,522.83 L85.24,522.41 L86.27,521.98 L87.29,521.54 L88.32,521.09 L89.34,520.63 L90.37,520.16 L91.40,519.67 L92.42,519.16 L93.45,518.63 L94.47,518.08 L94.80,517.90 L95.50,517.51 L96.52,516.91 L97.55,516.29 L98.58,515.65 L99.60,514.97 L100.63,514.25 L101.65,513.50 L102.68,512.70 L103.70,511.86 L104.73,510.96 L104.80,510.90 L105.76,509.94 L106.78,508.73 L107.81,507.41 L108.83,506.07 L109.86,504.78 L110.88,503.62 L111.00,503.50 L111.91,502.59 L112.94,501.60 L113.96,500.66 L114.99,499.77 L116.01,498.92 L117.04,498.12 L117.20,498.00 L118.06,497.37 L119.09,496.65 L120.12,495.97 L121.14,495.32 L122.17,494.70 L123.19,494.11 L123.40,494.00 L124.22,493.55 L125.25,493.01 L126.27,492.50 L127.30,492.01 L128.32,491.54 L129.35,491.10 L129.60,491.00 L130.37,490.69 L131.40,490.29 L132.43,489.90 L133.45,489.52 L134.48,489.15 L135.50,488.80 L136.53,488.45 L137.55,488.12 L138.58,487.80 L139.61,487.50 L140.63,487.20 L141.66,486.92 L142.10,486.80 L142.68,486.65 L143.71,486.39 L144.73,486.13 L145.76,485.89 L146.79,485.65 L147.81,485.42 L148.84,485.20 L149.86,484.98 L150.89,484.77 L151.91,484.57 L152.94,484.38 L153.97,484.19 L154.99,484.00 L155.00,484.00 L156.02,483.82 L157.04,483.65 L158.07,483.47 L159.09,483.31 L160.12,483.14 L161.15,482.98 L162.17,482.82 L163.20,482.67 L164.22,482.51 L165.25,482.36 L166.28,482.22 L167.30,482.08 L168.33,481.94 L169.35,481.80 L170.38,481.66 L171.40,481.53 L172.43,481.40 L173.46,481.28 L174.48,481.15 L174.90,481.10 L175.51,481.03 L176.53,480.91 L177.56,480.79 L178.58,480.67 L179.61,480.56 L180.64,480.45 L181.66,480.34 L182.69,480.23 L183.71,480.12 L184.74,480.02 L185.76,479.91 L186.79,479.81 L187.82,479.71 L188.84,479.61 L189.87,479.51 L190.89,479.41 L191.92,479.32 L192.94,479.22 L193.97,479.13 L195.00,479.03 L196.02,478.94 L197.05,478.85 L198.07,478.75 L199.10,478.66 L199.80,478.60 L200.13,478.57 L201.15,478.48 L202.18,478.39 L203.20,478.30 L204.23,478.21 L205.25,478.12 L206.28,478.03 L207.31,477.94 L208.33,477.86 L209.36,477.77 L210.38,477.68 L211.41,477.60 L212.43,477.52 L213.46,477.43 L214.49,477.35 L215.51,477.27 L216.54,477.19 L217.56,477.11 L218.59,477.03 L219.61,476.96 L220.64,476.88 L221.67,476.81 L222.69,476.73 L223.72,476.66 L224.60,476.60 L224.74,476.59 L225.77,476.52 L226.79,476.45 L227.82,476.38 L228.85,476.31 L229.87,476.24 L230.90,476.18 L231.92,476.11 L232.95,476.04 L233.97,475.98 L235.00,475.91 L236.03,475.85 L237.05,475.78 L238.08,475.72 L239.10,475.66 L240.13,475.60 L241.16,475.54 L242.18,475.49 L243.21,475.43 L244.23,475.38 L245.26,475.32 L246.28,475.27 L247.31,475.22 L248.34,475.17 L249.36,475.13 L250.00,475.10 L250.39,475.08 L251.41,475.04 L252.44,475.00 L253.46,474.96 L254.49,474.92 L255.52,474.88 L256.54,474.84 L257.57,474.80 L258.59,474.77 L259.62,474.73 L260.64,474.70 L261.67,474.66 L262.70,474.63 L263.72,474.60 L264.75,474.57 L265.77,474.53 L266.80,474.50 L267.82,474.47 L268.85,474.44 L269.88,474.41 L270.90,474.38 L271.93,474.35 L272.95,474.32 L273.98,474.29 L275.01,474.25 L276.03,474.22 L277.06,474.19 L278.08,474.16 L279.11,474.13 L280.00,474.10 L280.13,474.10 L281.16,474.06 L282.19,474.03 L283.21,474.00 L284.24,473.97 L285.26,473.93 L286.29,473.90 L287.31,473.87 L288.34,473.84 L289.37,473.81 L290.39,473.78 L291.42,473.74 L292.44,473.71 L293.47,473.68 L294.49,473.65 L295.52,473.62 L296.55,473.59 L297.57,473.56 L298.60,473.53 L299.62,473.50 L300.65,473.46 L301.67,473.43 L302.70,473.40 L303.73,473.37 L304.75,473.34 L305.78,473.31 L306.80,473.28 L307.83,473.25 L308.85,473.22 L309.88,473.19 L310.91,473.16 L311.93,473.13 L312.96,473.10 L313.98,473.07 L315.01,473.04 L316.04,473.01 L317.06,472.98 L318.09,472.95 L319.11,472.92 L320.14,472.89 L321.16,472.86 L322.19,472.83 L323.22,472.80 L324.24,472.77 L325.27,472.73 L326.29,472.70 L327.32,472.67 L328.34,472.64 L329.37,472.61 L329.80,472.60 L330.40,472.58 L331.42,472.55 L332.45,472.52 L333.47,472.49 L334.50,472.46 L335.52,472.43 L336.55,472.40 L337.58,472.37 L338.60,472.34 L339.63,472.31 L340.65,472.28 L341.68,472.25 L342.70,472.22 L343.73,472.19 L344.76,472.16 L345.78,472.13 L346.81,472.09 L347.83,472.06 L348.86,472.03 L349.88,472.00 L350.91,471.97 L351.94,471.94 L352.96,471.91 L353.99,471.88 L355.01,471.85 L356.04,471.82 L357.07,471.79 L358.09,471.76 L359.12,471.73 L360.14,471.70 L361.17,471.67 L362.19,471.64 L363.22,471.61 L364.25,471.58 L365.27,471.55 L366.30,471.52 L367.32,471.49 L368.35,471.46 L369.37,471.43 L370.40,471.40" fill="none" stroke="#0000ff" stroke-width="2.5" stroke-dasharray="5.6 1.35 1.4 1.35 1.4 1.35" stroke-dashoffset="9.6"/>
<path d="M63.60,661.20 L64.63,661.21 L65.65,661.21 L66.68,661.22 L67.70,661.22 L68.73,661.23 L69.76,661.24 L70.78,661.24 L71.81,661.25 L72.83,661.26 L73.86,661.26 L74.89,661.27 L75.91,661.27 L76.94,661.28 L77.97,661.29 L78.99,661.29 L80.02,661.30 L81.04,661.30 L82.07,661.31 L83.10,661.31 L84.12,661.32 L85.15,661.33 L86.17,661.33 L87.20,661.34 L88.23,661.34 L89.25,661.35 L90.28,661.35 L91.30,661.36 L92.33,661.37 L93.36,661.37 L94.38,661.38 L95.41,661.38 L96.43,661.39 L97.46,661.39 L98.49,661.40 L99.51,661.40 L100.54,661.41 L101.57,661.41 L102.59,661.42 L103.62,661.43 L104.64,661.43 L105.67,661.44 L106.70,661.44 L107.72,661.45 L108.75,661.45 L109.77,661.46 L110.80,661.46 L111.83,661.47 L112.85,661.47 L113.88,661.48 L114.90,661.48 L115.93,661.49 L116.96,661.49 L117.98,661.49 L119.01,661.50 L120.03,661.50 L121.06,661.51 L122.09,661.51 L123.11,661.52 L124.14,661.52 L125.17,661.53 L126.19,661.53 L127.22,661.53 L128.24,661.54 L129.27,661.54 L130.30,661.55 L131.32,661.55 L132.35,661.56 L133.37,661.56 L134.40,661.56 L135.43,661.57 L136.45,661.57 L137.48,661.58 L138.50,661.58 L139.53,661.58 L140.56,661.59 L141.58,661.59 L142.61,661.59 L143.63,661.60 L144.66,661.60 L145.69,661.60 L146.71,661.61 L147.74,661.61 L148.77,661.61 L149.79,661.62 L150.82,661.62 L151.84,661.62 L152.87,661.63 L153.90,661.63 L154.92,661.63 L155.95,661.64 L156.97,661.64 L158.00,661.64 L159.03,661.64 L160.05,661.65 L161.08,661.65 L162.10,661.65 L163.13,661.65 L164.16,661.66 L165.18,661.66 L166.21,661.66 L167.23,661.66 L168.26,661.67 L169.29,661.67 L170.31,661.67 L171.34,661.67 L172.37,661.67 L173.39,661.68 L174.42,661.68 L175.44,661.68 L176.47,661.68 L177.50,661.68 L178.52,661.68 L179.55,661.69 L180.57,661.69 L181.60,661.69 L182.63,661.69 L183.65,661.69 L184.68,661.69 L185.70,661.69 L186.73,661.69 L187.76,661.69 L188.78,661.70 L189.81,661.70 L190.83,661.70 L191.86,661.70 L192.89,661.70 L193.91,661.70 L194.94,661.70 L195.97,661.70 L196.99,661.70 L198.02,661.70 L199.04,661.70 L200.00,661.70 L200.07,661.70 L201.10,661.70 L202.12,661.70 L203.15,661.70 L204.17,661.70 L205.20,661.70 L206.23,661.70 L207.25,661.70 L208.28,661.70 L209.30,661.70 L210.33,661.70 L211.36,661.70 L212.38,661.70 L213.41,661.70 L214.43,661.70 L215.46,661.70 L216.49,661.70 L217.51,661.70 L218.54,661.70 L219.57,661.70 L220.59,661.70 L221.62,661.70 L222.64,661.70 L223.67,661.70 L224.70,661.70 L225.72,661.70 L226.75,661.70 L227.77,661.70 L228.80,661.70 L229.83,661.70 L230.85,661.70 L231.88,661.70 L232.90,661.70 L233.93,661.69 L234.96,661.69 L235.98,661.69 L237.01,661.69 L238.03,661.69 L239.06,661.69 L240.09,661.69 L241.11,661.69 L242.14,661.69 L243.17,661.69 L244.19,661.69 L245.22,661.69 L246.24,661.69 L247.27,661.69 L248.30,661.69 L249.32,661.69 L250.35,661.69 L251.37,661.69 L252.40,661.69 L253.43,661.68 L254.45,661.68 L255.48,661.68 L256.50,661.68 L257.53,661.68 L258.56,661.68 L259.58,661.68 L260.61,661.68 L261.63,661.68 L262.66,661.68 L263.69,661.68 L264.71,661.68 L265.74,661.67 L266.77,661.67 L267.79,661.67 L268.82,661.67 L269.84,661.67 L270.87,661.67 L271.90,661.67 L272.92,661.67 L273.95,661.67 L274.97,661.67 L276.00,661.66 L277.03,661.66 L278.05,661.66 L279.08,661.66 L280.10,661.66 L281.13,661.66 L282.16,661.66 L283.18,661.65 L284.21,661.65 L285.23,661.65 L286.26,661.65 L287.29,661.65 L288.31,661.65 L289.34,661.65 L290.37,661.64 L291.39,661.64 L292.42,661.64 L293.44,661.64 L294.47,661.64 L295.50,661.64 L296.52,661.63 L297.55,661.63 L298.57,661.63 L299.60,661.63 L300.63,661.63 L301.65,661.62 L302.68,661.62 L303.70,661.62 L304.73,661.62 L305.76,661.62 L306.78,661.61 L307.81,661.61 L308.83,661.61 L309.86,661.61 L310.89,661.60 L311.91,661.60 L312.94,661.60 L313.97,661.60 L314.99,661.60 L316.02,661.59 L317.04,661.59 L318.07,661.59 L319.10,661.58 L320.12,661.58 L321.15,661.58 L322.17,661.58 L323.20,661.57 L324.23,661.57 L325.25,661.57 L326.28,661.57 L327.30,661.56 L328.33,661.56 L329.36,661.56 L330.38,661.55 L331.41,661.55 L332.43,661.55 L333.46,661.54 L334.49,661.54 L335.51,661.54 L336.54,661.53 L337.57,661.53 L338.59,661.53 L339.62,661.52 L340.64,661.52 L341.67,661.52 L342.70,661.51 L343.72,661.51 L344.75,661.51 L345.77,661.50 L346.80,661.50 L347.83,661.50 L348.85,661.49 L349.88,661.49 L350.90,661.48 L351.93,661.48 L352.96,661.48 L353.98,661.47 L355.01,661.47 L356.03,661.46 L357.06,661.46 L358.09,661.46 L359.11,661.45 L360.14,661.45 L361.17,661.44 L362.19,661.44 L363.22,661.43 L364.24,661.43 L365.27,661.42 L366.30,661.42 L367.32,661.41 L368.35,661.41 L369.37,661.40 L370.40,661.40" fill="none" stroke="#bebebe" stroke-width="2.3"/>
<path d="M63.20,770.40 L64.22,772.91 L65.25,775.31 L66.27,777.58 L67.30,779.69 L67.40,779.90 L68.32,781.73 L69.34,783.75 L70.37,785.64 L71.39,787.30 L72.40,788.60 L72.42,788.62 L73.44,789.69 L74.46,790.65 L75.49,791.50 L76.51,792.25 L77.54,792.91 L78.56,793.48 L78.60,793.50 L79.59,794.01 L80.61,794.55 L81.63,795.06 L82.66,795.51 L83.68,795.89 L84.71,796.15 L85.73,796.29 L86.10,796.30 L86.75,796.30 L87.78,796.27 L88.80,796.23 L89.83,796.17 L90.85,796.10 L91.87,796.03 L92.30,796.00 L92.90,795.95 L93.92,795.83 L94.95,795.67 L95.97,795.48 L96.99,795.27 L98.02,795.04 L99.04,794.80 L100.07,794.55 L101.09,794.30 L102.12,794.06 L103.14,793.83 L104.16,793.62 L104.80,793.50 L105.19,793.43 L106.21,793.25 L107.24,793.08 L108.26,792.90 L109.28,792.73 L110.31,792.56 L111.33,792.40 L112.36,792.24 L113.38,792.08 L114.40,791.92 L115.43,791.77 L116.45,791.61 L117.20,791.50 L117.48,791.46 L118.50,791.31 L119.52,791.15 L120.55,791.00 L121.57,790.84 L122.60,790.69 L123.62,790.55 L124.64,790.40 L125.67,790.26 L126.69,790.13 L127.72,790.01 L128.74,789.89 L129.60,789.80 L129.77,789.78 L130.79,789.68 L131.81,789.59 L132.84,789.51 L133.86,789.43 L134.89,789.35 L135.91,789.27 L136.93,789.20 L137.96,789.12 L138.98,789.05 L140.01,788.97 L141.03,788.89 L142.05,788.80 L142.10,788.80 L143.08,788.71 L144.10,788.62 L145.13,788.53 L146.15,788.43 L147.17,788.33 L148.20,788.23 L149.22,788.13 L150.25,788.03 L151.27,787.93 L152.29,787.84 L153.32,787.74 L154.34,787.66 L155.00,787.60 L155.37,787.57 L156.39,787.49 L157.42,787.40 L158.44,787.32 L159.46,787.24 L160.49,787.16 L161.51,787.09 L162.54,787.01 L163.56,786.93 L164.58,786.86 L165.61,786.78 L166.63,786.71 L167.66,786.63 L168.68,786.56 L169.70,786.49 L170.73,786.42 L171.75,786.35 L172.78,786.28 L173.80,786.21 L174.82,786.14 L175.85,786.07 L176.87,786.00 L177.90,785.93 L178.92,785.86 L179.90,785.80 L179.95,785.80 L180.97,785.73 L181.99,785.66 L183.02,785.60 L184.04,785.53 L185.07,785.47 L186.09,785.40 L187.11,785.34 L188.14,785.28 L189.16,785.22 L190.19,785.15 L191.21,785.09 L192.23,785.03 L193.26,784.97 L194.28,784.91 L195.31,784.85 L196.33,784.79 L197.35,784.73 L198.38,784.67 L199.40,784.61 L200.43,784.55 L201.45,784.49 L202.47,784.43 L203.50,784.37 L204.52,784.31 L205.55,784.25 L206.57,784.19 L207.60,784.13 L208.62,784.06 L209.64,784.00 L209.70,784.00 L210.67,783.94 L211.69,783.88 L212.72,783.82 L213.74,783.75 L214.76,783.69 L215.79,783.62 L216.81,783.56 L217.84,783.49 L218.86,783.43 L219.88,783.36 L220.91,783.30 L221.93,783.23 L222.96,783.17 L223.98,783.10 L225.00,783.04 L226.03,782.98 L227.05,782.91 L228.08,782.85 L229.10,782.79 L230.13,782.73 L231.15,782.66 L232.17,782.60 L233.20,782.55 L234.22,782.49 L235.25,782.43 L236.27,782.37 L237.29,782.32 L238.32,782.27 L239.34,782.21 L239.60,782.20 L240.37,782.16 L241.39,782.11 L242.41,782.06 L243.44,782.01 L244.46,781.96 L245.49,781.91 L246.51,781.85 L247.53,781.80 L248.56,781.75 L249.58,781.70 L250.61,781.66 L251.63,781.61 L252.65,781.56 L253.68,781.51 L254.70,781.47 L255.73,781.42 L256.75,781.37 L257.78,781.33 L258.80,781.29 L259.82,781.25 L260.85,781.21 L261.87,781.17 L262.90,781.13 L263.92,781.09 L264.94,781.05 L265.97,781.02 L266.99,780.99 L268.02,780.96 L269.04,780.93 L270.00,780.90 L270.06,780.90 L271.09,780.87 L272.11,780.85 L273.14,780.82 L274.16,780.80 L275.18,780.77 L276.21,780.75 L277.23,780.73 L278.26,780.70 L279.28,780.68 L280.31,780.66 L281.33,780.64 L282.35,780.62 L283.38,780.60 L284.40,780.58 L285.43,780.56 L286.45,780.54 L287.47,780.53 L288.50,780.51 L289.52,780.49 L290.55,780.47 L291.57,780.46 L292.59,780.44 L293.62,780.43 L294.64,780.41 L295.67,780.39 L296.69,780.38 L297.71,780.36 L298.74,780.35 L299.76,780.33 L300.79,780.32 L301.81,780.30 L302.83,780.28 L303.86,780.27 L304.88,780.25 L305.91,780.24 L306.93,780.22 L307.96,780.21 L308.98,780.19 L310.00,780.17 L311.03,780.16 L312.05,780.14 L313.08,780.12 L314.10,780.10 L315.12,780.09 L316.15,780.07 L317.17,780.05 L318.20,780.03 L319.22,780.01 L320.24,779.99 L321.27,779.97 L322.29,779.95 L323.32,779.93 L324.34,779.91 L324.70,779.90 L325.36,779.89 L326.39,779.86 L327.41,779.84 L328.44,779.82 L329.46,779.79 L330.48,779.77 L331.51,779.74 L332.53,779.72 L333.56,779.70 L334.58,779.67 L335.61,779.65 L336.63,779.62 L337.65,779.59 L338.68,779.57 L339.70,779.54 L340.73,779.52 L341.75,779.49 L342.77,779.46 L343.80,779.44 L344.82,779.41 L345.85,779.38 L346.87,779.35 L347.89,779.33 L348.92,779.30 L349.94,779.27 L350.97,779.24 L351.99,779.21 L353.01,779.18 L354.04,779.16 L355.06,779.13 L356.09,779.10 L357.11,779.07 L358.14,779.04 L359.16,779.01 L360.18,778.98 L361.21,778.95 L362.23,778.92 L363.26,778.89 L364.28,778.86 L365.30,778.82 L366.33,778.79 L367.35,778.76 L368.38,778.73 L369.40,778.70" fill="none" stroke="#ff0000" stroke-width="2.5" stroke-dasharray="2.3 2.2"/>
<path d="M64.20,777.90 L65.22,779.41 L66.25,780.96 L67.27,782.54 L68.30,784.15 L68.70,784.80 L69.32,785.75 L70.34,787.26 L71.37,788.91 L72.39,790.98 L72.40,791.00 L73.42,794.16 L74.44,798.11 L74.90,799.80 L75.46,801.87 L76.49,805.69 L77.40,808.50 L77.51,808.78 L78.54,811.09 L79.56,812.92 L79.90,813.40 L80.59,814.27 L81.61,815.43 L82.63,816.44 L83.66,817.33 L84.68,818.15 L85.71,818.91 L86.10,819.20 L86.73,819.65 L87.75,820.34 L88.78,820.99 L89.80,821.60 L90.83,822.16 L91.85,822.68 L92.30,822.90 L92.87,823.17 L93.90,823.64 L94.92,824.09 L95.95,824.53 L96.97,824.96 L97.99,825.37 L99.02,825.76 L100.04,826.13 L101.07,826.48 L102.09,826.82 L103.12,827.13 L104.14,827.42 L104.80,827.60 L105.16,827.69 L106.19,827.95 L107.21,828.20 L108.24,828.43 L109.26,828.65 L110.28,828.86 L111.31,829.06 L112.33,829.26 L113.36,829.45 L114.38,829.63 L115.40,829.80 L116.43,829.97 L117.20,830.10 L117.45,830.14 L118.48,830.30 L119.50,830.46 L120.52,830.61 L121.55,830.76 L122.57,830.91 L123.60,831.05 L124.62,831.18 L125.64,831.31 L126.67,831.44 L127.69,831.57 L128.72,831.69 L129.60,831.80 L129.74,831.82 L130.77,831.94 L131.79,832.05 L132.81,832.17 L133.84,832.28 L134.86,832.39 L135.89,832.49 L136.91,832.60 L137.93,832.70 L138.96,832.80 L139.98,832.90 L141.01,833.00 L142.03,833.09 L142.10,833.10 L143.05,833.19 L144.08,833.28 L145.10,833.38 L146.13,833.47 L147.15,833.56 L148.17,833.65 L149.20,833.74 L150.22,833.83 L151.25,833.91 L152.27,833.99 L153.29,834.07 L154.32,834.15 L155.00,834.20 L155.34,834.22 L156.37,834.30 L157.39,834.37 L158.42,834.45 L159.44,834.52 L160.46,834.60 L161.49,834.67 L162.51,834.74 L163.54,834.81 L164.56,834.89 L165.58,834.95 L166.61,835.02 L167.63,835.09 L168.66,835.16 L169.68,835.22 L170.70,835.28 L171.73,835.34 L172.75,835.39 L173.78,835.45 L174.80,835.50 L175.82,835.55 L176.85,835.59 L177.87,835.63 L178.90,835.67 L179.90,835.70 L179.92,835.70 L180.95,835.73 L181.97,835.76 L182.99,835.79 L184.02,835.82 L185.04,835.85 L186.07,835.87 L187.09,835.90 L188.11,835.92 L189.14,835.95 L190.16,835.97 L191.19,835.99 L192.21,836.02 L193.23,836.04 L194.26,836.06 L195.28,836.08 L196.31,836.10 L197.33,836.12 L198.35,836.13 L199.38,836.15 L200.40,836.17 L201.43,836.18 L202.45,836.20 L203.47,836.22 L204.50,836.23 L205.52,836.25 L206.55,836.26 L207.57,836.27 L208.60,836.29 L209.62,836.30 L209.70,836.30 L210.64,836.31 L211.67,836.32 L212.69,836.34 L213.72,836.35 L214.74,836.36 L215.76,836.37 L216.79,836.39 L217.81,836.40 L218.84,836.41 L219.86,836.42 L220.88,836.44 L221.91,836.45 L222.93,836.46 L223.96,836.47 L224.98,836.49 L226.00,836.50 L227.03,836.51 L228.05,836.52 L229.08,836.53 L230.10,836.54 L231.13,836.55 L232.15,836.57 L233.17,836.58 L234.20,836.59 L235.22,836.60 L236.25,836.61 L237.27,836.62 L238.29,836.63 L239.32,836.64 L240.34,836.65 L241.37,836.66 L242.39,836.67 L243.41,836.67 L244.44,836.68 L245.46,836.69 L246.49,836.70 L247.51,836.71 L248.53,836.72 L249.56,836.72 L250.58,836.73 L251.61,836.74 L252.63,836.74 L253.65,836.75 L254.68,836.76 L255.70,836.76 L256.73,836.77 L257.75,836.77 L258.78,836.78 L259.80,836.78 L260.82,836.78 L261.85,836.79 L262.87,836.79 L263.90,836.79 L264.92,836.79 L265.94,836.80 L266.97,836.80 L267.99,836.80 L269.02,836.80 L270.00,836.80 L270.04,836.80 L271.06,836.80 L272.09,836.80 L273.11,836.80 L274.14,836.80 L275.16,836.80 L276.18,836.80 L277.21,836.80 L278.23,836.79 L279.26,836.79 L280.28,836.79 L281.31,836.79 L282.33,836.79 L283.35,836.79 L284.38,836.78 L285.40,836.78 L286.43,836.78 L287.45,836.78 L288.47,836.78 L289.50,836.77 L290.52,836.77 L291.55,836.77 L292.57,836.76 L293.59,836.76 L294.62,836.76 L295.64,836.75 L296.67,836.75 L297.69,836.75 L298.71,836.74 L299.74,836.74 L300.76,836.74 L301.79,836.73 L302.81,836.73 L303.83,836.72 L304.86,836.72 L305.88,836.72 L306.91,836.71 L307.93,836.71 L308.96,836.70 L309.98,836.70 L311.00,836.69 L312.03,836.69 L313.05,836.68 L314.08,836.68 L315.10,836.67 L316.12,836.67 L317.15,836.66 L318.17,836.66 L319.20,836.65 L320.22,836.65 L321.24,836.64 L322.27,836.64 L323.29,836.63 L324.32,836.63 L325.34,836.62 L326.36,836.62 L327.39,836.61 L328.41,836.61 L329.44,836.60 L330.00,836.60 L330.46,836.60 L331.48,836.59 L332.51,836.59 L333.53,836.58 L334.56,836.57 L335.58,836.57 L336.61,836.56 L337.63,836.55 L338.65,836.54 L339.68,836.54 L340.70,836.53 L341.73,836.52 L342.75,836.51 L343.77,836.50 L344.80,836.49 L345.82,836.48 L346.85,836.47 L347.87,836.46 L348.89,836.45 L349.92,836.44 L350.94,836.43 L351.97,836.42 L352.99,836.41 L354.01,836.40 L355.04,836.38 L356.06,836.37 L357.09,836.36 L358.11,836.35 L359.14,836.34 L360.16,836.33 L361.18,836.31 L362.21,836.30 L363.23,836.29 L364.26,836.28 L365.28,836.26 L366.30,836.25 L367.33,836.24 L368.35,836.23 L369.38,836.21 L370.40,836.20" fill="none" stroke="#00ff00" stroke-width="2.3" stroke-dasharray="0.95 0.9"/>
<path d="M63.70,727.60 L64.73,725.49 L65.75,723.33 L66.78,721.09 L67.40,719.70 L67.80,718.78 L68.83,716.37 L69.85,713.88 L70.88,711.37 L71.91,708.88 L72.40,707.70 L72.93,706.42 L73.96,703.86 L74.98,701.30 L76.01,698.86 L77.03,696.69 L77.40,696.00 L78.06,694.84 L79.09,693.15 L80.11,691.61 L81.14,690.20 L82.16,688.89 L82.40,688.60 L83.19,687.66 L84.22,686.50 L85.24,685.42 L86.27,684.45 L87.29,683.61 L87.30,683.60 L88.32,682.87 L89.34,682.20 L90.37,681.59 L91.40,681.04 L92.30,680.60 L92.42,680.54 L93.45,680.07 L94.47,679.61 L95.50,679.16 L96.52,678.73 L97.55,678.32 L98.58,677.92 L99.60,677.55 L100.63,677.20 L101.65,676.89 L102.68,676.60 L103.70,676.34 L104.73,676.11 L104.80,676.10 L105.76,675.92 L106.78,675.74 L107.81,675.57 L108.83,675.42 L109.86,675.28 L110.88,675.14 L111.91,675.01 L112.94,674.89 L113.96,674.77 L114.99,674.66 L116.01,674.54 L117.04,674.42 L117.20,674.40 L118.06,674.30 L119.09,674.18 L120.12,674.05 L121.14,673.93 L122.17,673.82 L123.19,673.70 L124.22,673.59 L125.25,673.48 L126.27,673.38 L127.30,673.29 L128.32,673.20 L129.35,673.12 L129.60,673.10 L130.37,673.04 L131.40,672.98 L132.43,672.91 L133.45,672.85 L134.48,672.79 L135.50,672.73 L136.53,672.68 L137.55,672.63 L138.58,672.58 L139.61,672.52 L140.63,672.47 L141.66,672.42 L142.10,672.40 L142.68,672.37 L143.71,672.32 L144.73,672.27 L145.76,672.22 L146.79,672.17 L147.81,672.12 L148.84,672.07 L149.86,672.02 L150.89,671.97 L151.91,671.93 L152.94,671.89 L153.97,671.84 L154.99,671.80 L155.00,671.80 L156.02,671.76 L157.04,671.72 L158.07,671.68 L159.09,671.64 L160.12,671.60 L161.15,671.56 L162.17,671.52 L163.20,671.48 L164.22,671.44 L165.25,671.40 L166.28,671.36 L167.30,671.32 L168.33,671.28 L169.35,671.25 L170.38,671.21 L171.40,671.17 L172.43,671.13 L173.46,671.10 L174.48,671.06 L175.51,671.02 L176.53,670.99 L177.56,670.95 L178.58,670.92 L179.61,670.88 L180.64,670.85 L181.66,670.81 L182.69,670.78 L183.71,670.74 L184.74,670.71 L185.76,670.68 L186.79,670.64 L187.82,670.61 L188.84,670.58 L189.87,670.55 L190.89,670.51 L191.92,670.48 L192.94,670.45 L193.97,670.42 L195.00,670.39 L196.02,670.36 L197.05,670.33 L198.07,670.30 L199.10,670.27 L200.13,670.24 L201.15,670.22 L202.18,670.19 L203.20,670.16 L204.23,670.14 L205.25,670.11 L206.28,670.08 L207.31,670.06 L208.33,670.03 L209.36,670.01 L209.70,670.00 L210.38,669.98 L211.41,669.96 L212.43,669.94 L213.46,669.91 L214.49,669.89 L215.51,669.86 L216.54,669.84 L217.56,669.82 L218.59,669.79 L219.61,669.77 L220.64,669.75 L221.67,669.72 L222.69,669.70 L223.72,669.68 L224.74,669.66 L225.77,669.63 L226.79,669.61 L227.82,669.59 L228.85,669.57 L229.87,669.55 L230.90,669.52 L231.92,669.50 L232.95,669.48 L233.97,669.46 L235.00,669.44 L236.03,669.42 L237.05,669.40 L238.08,669.38 L239.10,669.36 L240.13,669.34 L241.16,669.32 L242.18,669.30 L243.21,669.28 L244.23,669.26 L245.26,669.25 L246.28,669.23 L247.31,669.21 L248.34,669.19 L249.36,669.18 L250.39,669.16 L251.41,669.14 L252.44,669.13 L253.46,669.11 L254.49,669.09 L255.52,669.08 L256.54,669.06 L257.57,669.05 L258.59,669.04 L259.62,669.02 L260.64,669.01 L261.67,668.99 L262.70,668.98 L263.72,668.97 L264.75,668.96 L265.77,668.94 L266.80,668.93 L267.82,668.92 L268.85,668.91 L269.88,668.90 L270.00,668.90 L270.90,668.89 L271.93,668.88 L272.95,668.87 L273.98,668.86 L275.01,668.85 L276.03,668.84 L277.06,668.84 L278.08,668.83 L279.11,668.82 L280.13,668.81 L281.16,668.80 L282.19,668.80 L283.21,668.79 L284.24,668.78 L285.26,668.77 L286.29,668.77 L287.31,668.76 L288.34,668.75 L289.37,668.75 L290.39,668.74 L291.42,668.73 L292.44,668.73 L293.47,668.72 L294.49,668.71 L295.52,668.71 L296.55,668.70 L297.57,668.69 L298.60,668.69 L299.62,668.68 L300.65,668.68 L301.67,668.67 L302.70,668.66 L303.73,668.66 L304.75,668.65 L305.78,668.65 L306.80,668.64 L307.83,668.64 L308.85,668.63 L309.88,668.62 L310.91,668.62 L311.93,668.61 L312.96,668.61 L313.98,668.60 L315.01,668.59 L316.04,668.59 L317.06,668.58 L318.09,668.58 L319.11,668.57 L320.14,668.56 L321.16,668.56 L322.19,668.55 L323.22,668.55 L324.24,668.54 L325.27,668.53 L326.29,668.53 L327.32,668.52 L328.34,668.51 L329.37,668.50 L330.00,668.50 L330.40,668.50 L331.42,668.49 L332.45,668.48 L333.47,668.48 L334.50,668.47 L335.52,668.46 L336.55,668.45 L337.58,668.45 L338.60,668.44 L339.63,668.43 L340.65,668.42 L341.68,668.42 L342.70,668.41 L343.73,668.40 L344.76,668.39 L345.78,668.39 L346.81,668.38 L347.83,668.37 L348.86,668.36 L349.88,668.36 L350.91,668.35 L351.94,668.34 L352.96,668.33 L353.99,668.33 L355.01,668.32 L356.04,668.31 L357.07,668.30 L358.09,668.29 L359.12,668.29 L360.14,668.28 L361.17,668.27 L362.19,668.26 L363.22,668.26 L364.25,668.25 L365.27,668.24 L366.30,668.23 L367.32,668.22 L368.35,668.22 L369.37,668.21 L370.40,668.20" fill="none" stroke="#0000ff" stroke-width="2.5" stroke-dasharray="5.6 1.35 1.4 1.35 1.4 1.35" stroke-dashoffset="9.6"/>
<path d="M63.70,677.90 L64.73,678.42 L65.75,679.04 L66.78,679.74 L67.80,680.52 L68.83,681.36 L69.85,682.26 L69.90,682.30 L70.88,683.26 L71.91,684.40 L72.93,685.65 L73.96,687.00 L74.98,688.40 L76.01,689.84 L77.03,691.29 L77.40,691.80 L78.06,692.76 L79.09,694.37 L80.11,696.07 L81.14,697.80 L82.16,699.51 L83.19,701.13 L84.22,702.62 L84.90,703.50 L85.24,703.91 L86.27,705.10 L87.29,706.23 L88.32,707.29 L89.34,708.30 L90.37,709.25 L91.40,710.15 L92.30,710.90 L92.42,711.00 L93.45,711.81 L94.47,712.58 L95.50,713.33 L96.52,714.04 L97.55,714.73 L98.58,715.40 L99.60,716.06 L100.63,716.69 L101.65,717.32 L102.68,717.94 L103.70,718.55 L104.73,719.16 L104.80,719.20 L105.76,719.77 L106.78,720.36 L107.81,720.95 L108.83,721.53 L109.86,722.10 L110.88,722.66 L111.91,723.21 L112.94,723.76 L113.96,724.29 L114.99,724.81 L116.01,725.32 L117.04,725.82 L117.20,725.90 L118.06,726.31 L119.09,726.80 L120.12,727.27 L121.14,727.74 L122.17,728.20 L123.19,728.65 L124.22,729.09 L125.25,729.53 L126.27,729.95 L127.30,730.38 L128.32,730.79 L129.35,731.20 L129.60,731.30 L130.37,731.60 L131.40,732.00 L132.43,732.40 L133.45,732.79 L134.48,733.17 L135.50,733.55 L136.53,733.92 L137.55,734.28 L138.58,734.64 L139.61,734.99 L140.63,735.33 L141.66,735.66 L142.10,735.80 L142.68,735.98 L143.71,736.30 L144.73,736.61 L145.76,736.91 L146.79,737.21 L147.81,737.50 L148.84,737.78 L149.86,738.06 L150.89,738.34 L151.91,738.61 L152.94,738.88 L153.97,739.14 L154.99,739.40 L155.00,739.40 L156.02,739.65 L157.04,739.90 L158.07,740.15 L159.09,740.39 L160.12,740.63 L161.15,740.87 L162.17,741.10 L163.20,741.33 L164.22,741.56 L165.25,741.79 L166.28,742.02 L167.30,742.24 L168.33,742.46 L169.35,742.68 L170.38,742.90 L171.40,743.11 L172.43,743.33 L173.46,743.55 L174.48,743.76 L175.51,743.98 L176.53,744.19 L177.56,744.41 L178.58,744.62 L179.61,744.84 L179.90,744.90 L180.64,745.06 L181.66,745.27 L182.69,745.49 L183.71,745.71 L184.74,745.93 L185.76,746.14 L186.79,746.36 L187.82,746.58 L188.84,746.80 L189.87,747.01 L190.89,747.23 L191.92,747.45 L192.94,747.66 L193.97,747.87 L195.00,748.08 L196.02,748.30 L197.05,748.50 L198.07,748.71 L199.10,748.92 L200.13,749.12 L201.15,749.32 L202.18,749.52 L203.20,749.72 L204.23,749.91 L205.25,750.10 L206.28,750.29 L207.31,750.48 L208.33,750.66 L209.36,750.84 L209.70,750.90 L210.38,751.02 L211.41,751.19 L212.43,751.37 L213.46,751.54 L214.49,751.71 L215.51,751.88 L216.54,752.05 L217.56,752.22 L218.59,752.38 L219.61,752.55 L220.64,752.71 L221.67,752.87 L222.69,753.03 L223.72,753.19 L224.74,753.34 L225.77,753.50 L226.79,753.65 L227.82,753.80 L228.85,753.95 L229.87,754.10 L230.90,754.25 L231.92,754.39 L232.95,754.53 L233.97,754.67 L235.00,754.81 L236.03,754.94 L237.05,755.08 L238.08,755.21 L239.10,755.34 L239.60,755.40 L240.13,755.47 L241.16,755.59 L242.18,755.71 L243.21,755.83 L244.23,755.95 L245.26,756.07 L246.28,756.19 L247.31,756.30 L248.34,756.41 L249.36,756.52 L250.39,756.63 L251.41,756.74 L252.44,756.85 L253.46,756.95 L254.49,757.06 L255.52,757.16 L256.54,757.27 L257.57,757.37 L258.59,757.47 L259.62,757.57 L260.64,757.67 L261.67,757.78 L262.70,757.88 L263.72,757.98 L264.75,758.08 L265.77,758.18 L266.80,758.28 L267.82,758.38 L268.85,758.48 L269.88,758.59 L270.00,758.60 L270.90,758.69 L271.93,758.79 L272.95,758.89 L273.98,758.99 L275.01,759.09 L276.03,759.19 L277.06,759.29 L278.08,759.39 L279.11,759.49 L280.13,759.59 L281.16,759.68 L282.19,759.78 L283.21,759.88 L284.24,759.98 L285.26,760.07 L286.29,760.17 L287.31,760.27 L288.34,760.37 L289.37,760.46 L290.39,760.56 L291.42,760.66 L292.44,760.76 L293.47,760.86 L294.49,760.96 L294.90,761.00 L295.52,761.06 L296.55,761.16 L297.57,761.27 L298.60,761.37 L299.62,761.48 L300.65,761.58 L301.67,761.69 L302.70,761.80 L303.73,761.91 L304.75,762.02 L305.78,762.12 L306.80,762.23 L307.83,762.34 L308.85,762.45 L309.88,762.56 L310.91,762.67 L311.93,762.77 L312.96,762.88 L313.98,762.98 L315.01,763.09 L316.04,763.19 L317.06,763.29 L318.09,763.39 L319.11,763.49 L320.14,763.59 L321.16,763.69 L322.19,763.78 L323.22,763.87 L324.24,763.96 L324.70,764.00 L325.27,764.05 L326.29,764.14 L327.32,764.22 L328.34,764.31 L329.37,764.39 L330.40,764.48 L331.42,764.56 L332.45,764.65 L333.47,764.73 L334.50,764.81 L335.52,764.90 L336.55,764.98 L337.58,765.06 L338.60,765.14 L339.63,765.22 L340.65,765.30 L341.68,765.38 L342.70,765.46 L343.73,765.54 L344.76,765.61 L345.78,765.69 L346.81,765.77 L347.83,765.84 L348.86,765.92 L349.88,765.99 L350.91,766.06 L351.94,766.14 L352.96,766.21 L353.99,766.28 L355.01,766.35 L356.04,766.42 L357.07,766.49 L358.09,766.56 L359.12,766.62 L360.14,766.69 L361.17,766.75 L362.19,766.82 L363.22,766.88 L364.25,766.94 L365.27,767.01 L366.30,767.07 L367.32,767.13 L368.35,767.19 L369.37,767.24 L370.40,767.30" fill="none" stroke="#ff00ff" stroke-width="2.5" stroke-dasharray="5.8 1.5 1.3 1.4"/>
<text x="49.40" y="48.2" text-anchor="end" font-size="16.6" textLength="15.6" lengthAdjust="spacingAndGlyphs">10</text>
<text x="56.10" y="39.4" text-anchor="end" font-size="13.2">0</text>
<text x="45.00" y="143.3" text-anchor="end" font-size="16.6" textLength="15.6" lengthAdjust="spacingAndGlyphs">10</text>
<text x="56.10" y="134.5" text-anchor="end" font-size="13.2">-1</text>
<text x="45.00" y="238.4" text-anchor="end" font-size="16.6" textLength="15.6" lengthAdjust="spacingAndGlyphs">10</text>
<text x="56.10" y="229.6" text-anchor="end" font-size="13.2">-2</text>
<text x="49.40" y="251.7" text-anchor="end" font-size="16.6" textLength="15.6" lengthAdjust="spacingAndGlyphs">10</text>
<text x="56.10" y="242.9" text-anchor="end" font-size="13.2">0</text>
<text x="45.00" y="346.8" text-anchor="end" font-size="16.6" textLength="15.6" lengthAdjust="spacingAndGlyphs">10</text>
<text x="56.10" y="338.0" text-anchor="end" font-size="13.2">-1</text>
<text x="45.00" y="441.9" text-anchor="end" font-size="16.6" textLength="15.6" lengthAdjust="spacingAndGlyphs">10</text>
<text x="56.10" y="433.1" text-anchor="end" font-size="13.2">-2</text>
<text x="49.40" y="465.3" text-anchor="end" font-size="16.6" textLength="15.6" lengthAdjust="spacingAndGlyphs">10</text>
<text x="56.10" y="456.5" text-anchor="end" font-size="13.2">0</text>
<text x="45.00" y="560.4" text-anchor="end" font-size="16.6" textLength="15.6" lengthAdjust="spacingAndGlyphs">10</text>
<text x="56.10" y="551.6" text-anchor="end" font-size="13.2">-1</text>
<text x="45.00" y="655.5" text-anchor="end" font-size="16.6" textLength="15.6" lengthAdjust="spacingAndGlyphs">10</text>
<text x="56.10" y="646.7" text-anchor="end" font-size="13.2">-2</text>
<text x="49.40" y="669.3" text-anchor="end" font-size="16.6" textLength="15.6" lengthAdjust="spacingAndGlyphs">10</text>
<text x="56.10" y="660.5" text-anchor="end" font-size="13.2">0</text>
<text x="45.00" y="764.4" text-anchor="end" font-size="16.6" textLength="15.6" lengthAdjust="spacingAndGlyphs">10</text>
<text x="56.10" y="755.6" text-anchor="end" font-size="13.2">-1</text>
<text x="45.00" y="859.5" text-anchor="end" font-size="16.6" textLength="15.6" lengthAdjust="spacingAndGlyphs">10</text>
<text x="56.10" y="850.7" text-anchor="end" font-size="13.2">-2</text>
<text x="61.9" y="865.4" text-anchor="middle" font-size="14.4">0</text>
<text x="125.3" y="865.4" text-anchor="middle" font-size="14.4">2</text>
<text x="188.8" y="865.4" text-anchor="middle" font-size="14.4">4</text>
<text x="252.3" y="865.4" text-anchor="middle" font-size="14.4">6</text>
<text x="315.8" y="865.4" text-anchor="middle" font-size="14.4">8</text>
<text x="379.3" y="865.4" text-anchor="middle" font-size="14.4">10</text>
<text x="184.2" y="885.3" font-size="16.6">t</text>
<text x="189.6" y="889.3" font-size="13.8">dyn</text>
<text x="212.6" y="885.3" font-size="17.1">(Myr)</text>
<text transform="translate(17.0,596.3) rotate(-90)" font-size="19.6" letter-spacing="0">Normalized</text>
<text transform="translate(17.0,494.6) rotate(-90)" font-size="19.6" letter-spacing="0.45">w.r.t</text>
<text transform="translate(17.0,449.6) rotate(-90)" font-size="19.6" letter-spacing="0">total</text>
<text transform="translate(17.0,405.3) rotate(-90)" font-size="19.6" letter-spacing="0">input</text>
<text transform="translate(17.0,355.9) rotate(-90)" font-size="19.6" letter-spacing="0">energy</text>
<text x="284.4" y="119.9" text-anchor="middle" font-size="16.5">N3_d2</text>
<text x="284.4" y="292.4" text-anchor="middle" font-size="16.5">N3_d2_c</text>
<text x="284.4" y="505.2" text-anchor="middle" font-size="16.5">N3_d2_crd</text>
<text x="284.4" y="709.9" text-anchor="middle" font-size="16.5">N3_d2_crd_c</text>
<text x="106.8" y="924.9" text-anchor="end" font-size="16.65" style="fill:#ff0000">Kinetic</text>
<path d="M117.0,919.2L164.8,919.2" stroke="#ff0000" stroke-width="2.5" stroke-dasharray="2.3 2.2" fill="none"/>
<text x="106.8" y="941.8" text-anchor="end" font-size="16.65" style="fill:#00ff00">Thermal</text>
<path d="M117.0,936.6L164.8,936.6" stroke="#00ff00" stroke-width="2.3" stroke-dasharray="0.95 0.9" fill="none"/>
<text x="106.8" y="959.2" text-anchor="end" font-size="16.65" style="fill:#0000ff">Cosmic rays</text>
<path d="M117.0,953.5L164.8,953.5" stroke="#0000ff" stroke-width="2.5" stroke-dasharray="5.6 1.35 1.4 1.35 1.4 1.35" stroke-dashoffset="9.6" fill="none"/>
<text x="285.0" y="925.0" text-anchor="end" font-size="16.65" style="fill:#ff00ff">Cooling</text>
<path d="M295.0,919.4L342.8,919.4" stroke="#ff00ff" stroke-width="2.5" stroke-dasharray="5.8 1.5 1.3 1.4" fill="none"/>
<text x="285.0" y="941.7" text-anchor="end" font-size="16.65" style="fill:#bebebe">Total</text>
<path d="M295.0,936.6L342.8,936.6" stroke="#bebebe" stroke-width="2.3" fill="none"/>
</svg></body></html>
